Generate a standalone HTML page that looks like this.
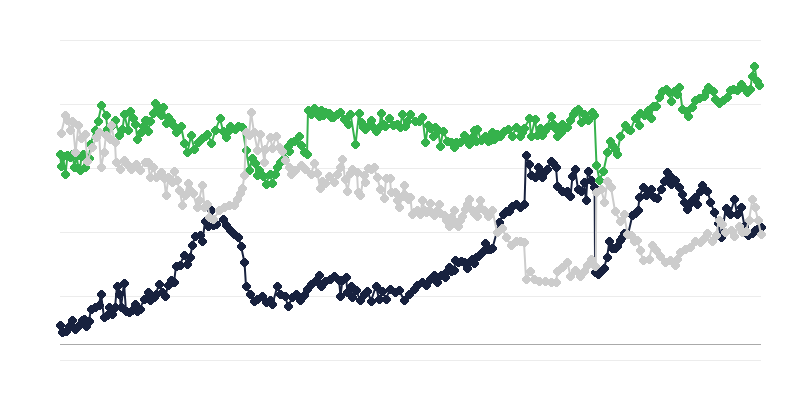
<!DOCTYPE html>
<html><head><meta charset="utf-8"><title>Chart</title>
<style>
html,body{margin:0;padding:0;background:#fff;font-family:"Liberation Sans",sans-serif;}
svg{display:block}
</style></head><body>
<svg width="800" height="400" viewBox="0 0 800 400">
<rect width="800" height="400" fill="#ffffff"/>
<rect x="60" y="40" width="701" height="1" fill="#ececec"/><rect x="60" y="104" width="701" height="1" fill="#ececec"/><rect x="60" y="168" width="701" height="1" fill="#ececec"/><rect x="60" y="232" width="701" height="1" fill="#ececec"/><rect x="60" y="296" width="701" height="1" fill="#ececec"/><rect x="60" y="360" width="701" height="1" fill="#ececec"/>
<rect x="60" y="344" width="701" height="1" fill="#aaaaaa"/>
<polyline fill="none" stroke="#18223f" stroke-width="2" stroke-linejoin="round" stroke-linecap="round" points="60,325 62.5,332.5 66,331 69,326 72.5,320 75.5,329 79,325 82.5,320 84,319 86,326 89,321 91,309 95,307.5 99,305 101,294 104,317.5 107.5,315 109.5,307.5 112.5,314 115,307.5 117,286 119.5,294 121,307.5 124,283 126,311 129,312.5 132.5,310 135.5,304 137.5,311 140,309 144,299 148,292.5 150,300 154,297.5 156,294 159,284 162.5,292.5 165.5,296 168,285 171,280 174,282.5 176,266 180,265 184,255 187.5,264 190,257.5 192.5,245 195,236 200,235 202.5,241 205,221.5 208.5,226 211,210 213,225.5 216,224 223,219 226,225 230,230 234,234 238.5,237.5 241,246 244.5,262.5 246,286 250,294 254,301 257.5,299 262.5,296 266,302.5 270,300 272.5,304 277.5,286 280,294 285,296 288,306 292.5,297.5 296,294 300,300 304,295 307.5,289 311,284 315,281 319.5,275 321,286 325,281 330,279 334.5,276 339,280 340.5,296 342.5,280 346,277.5 347.5,292.5 351,286 352.5,297.5 356,290 360,300 364,294 367.5,291 371,301 376,286 379,299 382.5,291 386,299 390,289 395,292.5 399,290 404,300 409,294 414,289 417.5,285 422.5,282.5 426,285 430,279 434,275 437.5,282.5 441,275 445,277 447,271 449,267.5 451.5,271 454,270 455.5,260.5 458,262 461,261 464,262 466,263 467.5,268.5 470,261 472.5,259 474,263.5 476,257.5 478,256 480,254 482,252 484,250 485.5,243 487.5,249 490,249.5 492.5,248 499.5,222 503,214 506,211.5 509,211 512.5,206 516,204 520,207.5 524.5,204 526,155 529,164 531,175 535,177 538,167.5 540.5,173 542.5,177 545,171 547.5,169 551,161 553,163 556,167.5 557.5,186 562,191 566,192 567.5,191 570.5,196.5 572.5,176 575,169 578,189 581,191 584,182.5 586,200 588,171 591,180 594.6,187.5 595.1,272.5 598.5,274 601,271 604,268 607,257.5 609.5,241 612.5,248 615,248 617.5,246 620.5,240.5 622.5,237.5 624.5,233 628,234.5 632.5,215 635.5,213 638,210.5 639.5,197.5 643,187 646,195 648.5,193 651,189 654,197 657,198 661,189 664.5,181 667,172 670,176 671.5,184 675,180.5 679,187.5 682.5,194 684.5,202 687.5,209 690,203.5 692,200 695,197.5 697.5,204 700,191 702.5,185 707.5,191 710.5,202 714.5,212.5 718,223 721,237 726,208 728,212 730,214 734.5,199.5 737,214 741,207.5 744.5,226 748,235 752,233 755,230 758,228.5 761.5,227"/>
<path fill="#18223f" d="M59 321h3v1h1v1h1v1h1v3h-1v1h-1v1h-1v1h-3v-1h-1v-1h-1v-1h-1v-3h1v-1h1v-1h1v-1zM61 328h3v1h1v1h1v1h1v3h-1v1h-1v1h-1v1h-3v-1h-1v-1h-1v-1h-1v-3h1v-1h1v-1h1v-1zM65 327h3v1h1v1h1v1h1v3h-1v1h-1v1h-1v1h-3v-1h-1v-1h-1v-1h-1v-3h1v-1h1v-1h1v-1zM68 322h3v1h1v1h1v1h1v3h-1v1h-1v1h-1v1h-3v-1h-1v-1h-1v-1h-1v-3h1v-1h1v-1h1v-1zM71 316h3v1h1v1h1v1h1v3h-1v1h-1v1h-1v1h-3v-1h-1v-1h-1v-1h-1v-3h1v-1h1v-1h1v-1zM74 325h3v1h1v1h1v1h1v3h-1v1h-1v1h-1v1h-3v-1h-1v-1h-1v-1h-1v-3h1v-1h1v-1h1v-1zM78 321h3v1h1v1h1v1h1v3h-1v1h-1v1h-1v1h-3v-1h-1v-1h-1v-1h-1v-3h1v-1h1v-1h1v-1zM81 316h3v1h1v1h1v1h1v3h-1v1h-1v1h-1v1h-3v-1h-1v-1h-1v-1h-1v-3h1v-1h1v-1h1v-1zM83 315h3v1h1v1h1v1h1v3h-1v1h-1v1h-1v1h-3v-1h-1v-1h-1v-1h-1v-3h1v-1h1v-1h1v-1zM85 322h3v1h1v1h1v1h1v3h-1v1h-1v1h-1v1h-3v-1h-1v-1h-1v-1h-1v-3h1v-1h1v-1h1v-1zM88 317h3v1h1v1h1v1h1v3h-1v1h-1v1h-1v1h-3v-1h-1v-1h-1v-1h-1v-3h1v-1h1v-1h1v-1zM90 305h3v1h1v1h1v1h1v3h-1v1h-1v1h-1v1h-3v-1h-1v-1h-1v-1h-1v-3h1v-1h1v-1h1v-1zM94 303h3v1h1v1h1v1h1v3h-1v1h-1v1h-1v1h-3v-1h-1v-1h-1v-1h-1v-3h1v-1h1v-1h1v-1zM98 301h3v1h1v1h1v1h1v3h-1v1h-1v1h-1v1h-3v-1h-1v-1h-1v-1h-1v-3h1v-1h1v-1h1v-1zM100 290h3v1h1v1h1v1h1v3h-1v1h-1v1h-1v1h-3v-1h-1v-1h-1v-1h-1v-3h1v-1h1v-1h1v-1zM103 313h3v1h1v1h1v1h1v3h-1v1h-1v1h-1v1h-3v-1h-1v-1h-1v-1h-1v-3h1v-1h1v-1h1v-1zM106 311h3v1h1v1h1v1h1v3h-1v1h-1v1h-1v1h-3v-1h-1v-1h-1v-1h-1v-3h1v-1h1v-1h1v-1zM108 303h3v1h1v1h1v1h1v3h-1v1h-1v1h-1v1h-3v-1h-1v-1h-1v-1h-1v-3h1v-1h1v-1h1v-1zM111 310h3v1h1v1h1v1h1v3h-1v1h-1v1h-1v1h-3v-1h-1v-1h-1v-1h-1v-3h1v-1h1v-1h1v-1zM114 303h3v1h1v1h1v1h1v3h-1v1h-1v1h-1v1h-3v-1h-1v-1h-1v-1h-1v-3h1v-1h1v-1h1v-1zM116 282h3v1h1v1h1v1h1v3h-1v1h-1v1h-1v1h-3v-1h-1v-1h-1v-1h-1v-3h1v-1h1v-1h1v-1zM118 290h3v1h1v1h1v1h1v3h-1v1h-1v1h-1v1h-3v-1h-1v-1h-1v-1h-1v-3h1v-1h1v-1h1v-1zM120 303h3v1h1v1h1v1h1v3h-1v1h-1v1h-1v1h-3v-1h-1v-1h-1v-1h-1v-3h1v-1h1v-1h1v-1zM123 279h3v1h1v1h1v1h1v3h-1v1h-1v1h-1v1h-3v-1h-1v-1h-1v-1h-1v-3h1v-1h1v-1h1v-1zM125 307h3v1h1v1h1v1h1v3h-1v1h-1v1h-1v1h-3v-1h-1v-1h-1v-1h-1v-3h1v-1h1v-1h1v-1zM128 308h3v1h1v1h1v1h1v3h-1v1h-1v1h-1v1h-3v-1h-1v-1h-1v-1h-1v-3h1v-1h1v-1h1v-1zM131 306h3v1h1v1h1v1h1v3h-1v1h-1v1h-1v1h-3v-1h-1v-1h-1v-1h-1v-3h1v-1h1v-1h1v-1zM134 300h3v1h1v1h1v1h1v3h-1v1h-1v1h-1v1h-3v-1h-1v-1h-1v-1h-1v-3h1v-1h1v-1h1v-1zM136 307h3v1h1v1h1v1h1v3h-1v1h-1v1h-1v1h-3v-1h-1v-1h-1v-1h-1v-3h1v-1h1v-1h1v-1zM139 305h3v1h1v1h1v1h1v3h-1v1h-1v1h-1v1h-3v-1h-1v-1h-1v-1h-1v-3h1v-1h1v-1h1v-1zM143 295h3v1h1v1h1v1h1v3h-1v1h-1v1h-1v1h-3v-1h-1v-1h-1v-1h-1v-3h1v-1h1v-1h1v-1zM147 288h3v1h1v1h1v1h1v3h-1v1h-1v1h-1v1h-3v-1h-1v-1h-1v-1h-1v-3h1v-1h1v-1h1v-1zM149 296h3v1h1v1h1v1h1v3h-1v1h-1v1h-1v1h-3v-1h-1v-1h-1v-1h-1v-3h1v-1h1v-1h1v-1zM153 293h3v1h1v1h1v1h1v3h-1v1h-1v1h-1v1h-3v-1h-1v-1h-1v-1h-1v-3h1v-1h1v-1h1v-1zM155 290h3v1h1v1h1v1h1v3h-1v1h-1v1h-1v1h-3v-1h-1v-1h-1v-1h-1v-3h1v-1h1v-1h1v-1zM158 280h3v1h1v1h1v1h1v3h-1v1h-1v1h-1v1h-3v-1h-1v-1h-1v-1h-1v-3h1v-1h1v-1h1v-1zM161 288h3v1h1v1h1v1h1v3h-1v1h-1v1h-1v1h-3v-1h-1v-1h-1v-1h-1v-3h1v-1h1v-1h1v-1zM164 292h3v1h1v1h1v1h1v3h-1v1h-1v1h-1v1h-3v-1h-1v-1h-1v-1h-1v-3h1v-1h1v-1h1v-1zM167 281h3v1h1v1h1v1h1v3h-1v1h-1v1h-1v1h-3v-1h-1v-1h-1v-1h-1v-3h1v-1h1v-1h1v-1zM170 276h3v1h1v1h1v1h1v3h-1v1h-1v1h-1v1h-3v-1h-1v-1h-1v-1h-1v-3h1v-1h1v-1h1v-1zM173 278h3v1h1v1h1v1h1v3h-1v1h-1v1h-1v1h-3v-1h-1v-1h-1v-1h-1v-3h1v-1h1v-1h1v-1zM175 262h3v1h1v1h1v1h1v3h-1v1h-1v1h-1v1h-3v-1h-1v-1h-1v-1h-1v-3h1v-1h1v-1h1v-1zM179 261h3v1h1v1h1v1h1v3h-1v1h-1v1h-1v1h-3v-1h-1v-1h-1v-1h-1v-3h1v-1h1v-1h1v-1zM183 251h3v1h1v1h1v1h1v3h-1v1h-1v1h-1v1h-3v-1h-1v-1h-1v-1h-1v-3h1v-1h1v-1h1v-1zM186 260h3v1h1v1h1v1h1v3h-1v1h-1v1h-1v1h-3v-1h-1v-1h-1v-1h-1v-3h1v-1h1v-1h1v-1zM189 253h3v1h1v1h1v1h1v3h-1v1h-1v1h-1v1h-3v-1h-1v-1h-1v-1h-1v-3h1v-1h1v-1h1v-1zM191 241h3v1h1v1h1v1h1v3h-1v1h-1v1h-1v1h-3v-1h-1v-1h-1v-1h-1v-3h1v-1h1v-1h1v-1zM194 232h3v1h1v1h1v1h1v3h-1v1h-1v1h-1v1h-3v-1h-1v-1h-1v-1h-1v-3h1v-1h1v-1h1v-1zM199 231h3v1h1v1h1v1h1v3h-1v1h-1v1h-1v1h-3v-1h-1v-1h-1v-1h-1v-3h1v-1h1v-1h1v-1zM201 237h3v1h1v1h1v1h1v3h-1v1h-1v1h-1v1h-3v-1h-1v-1h-1v-1h-1v-3h1v-1h1v-1h1v-1zM204 217h3v1h1v1h1v1h1v3h-1v1h-1v1h-1v1h-3v-1h-1v-1h-1v-1h-1v-3h1v-1h1v-1h1v-1zM207 222h3v1h1v1h1v1h1v3h-1v1h-1v1h-1v1h-3v-1h-1v-1h-1v-1h-1v-3h1v-1h1v-1h1v-1zM210 206h3v1h1v1h1v1h1v3h-1v1h-1v1h-1v1h-3v-1h-1v-1h-1v-1h-1v-3h1v-1h1v-1h1v-1zM212 221h3v1h1v1h1v1h1v3h-1v1h-1v1h-1v1h-3v-1h-1v-1h-1v-1h-1v-3h1v-1h1v-1h1v-1zM215 220h3v1h1v1h1v1h1v3h-1v1h-1v1h-1v1h-3v-1h-1v-1h-1v-1h-1v-3h1v-1h1v-1h1v-1zM222 215h3v1h1v1h1v1h1v3h-1v1h-1v1h-1v1h-3v-1h-1v-1h-1v-1h-1v-3h1v-1h1v-1h1v-1zM225 221h3v1h1v1h1v1h1v3h-1v1h-1v1h-1v1h-3v-1h-1v-1h-1v-1h-1v-3h1v-1h1v-1h1v-1zM229 226h3v1h1v1h1v1h1v3h-1v1h-1v1h-1v1h-3v-1h-1v-1h-1v-1h-1v-3h1v-1h1v-1h1v-1zM233 230h3v1h1v1h1v1h1v3h-1v1h-1v1h-1v1h-3v-1h-1v-1h-1v-1h-1v-3h1v-1h1v-1h1v-1zM237 233h3v1h1v1h1v1h1v3h-1v1h-1v1h-1v1h-3v-1h-1v-1h-1v-1h-1v-3h1v-1h1v-1h1v-1zM240 242h3v1h1v1h1v1h1v3h-1v1h-1v1h-1v1h-3v-1h-1v-1h-1v-1h-1v-3h1v-1h1v-1h1v-1zM243 258h3v1h1v1h1v1h1v3h-1v1h-1v1h-1v1h-3v-1h-1v-1h-1v-1h-1v-3h1v-1h1v-1h1v-1zM245 282h3v1h1v1h1v1h1v3h-1v1h-1v1h-1v1h-3v-1h-1v-1h-1v-1h-1v-3h1v-1h1v-1h1v-1zM249 290h3v1h1v1h1v1h1v3h-1v1h-1v1h-1v1h-3v-1h-1v-1h-1v-1h-1v-3h1v-1h1v-1h1v-1zM253 297h3v1h1v1h1v1h1v3h-1v1h-1v1h-1v1h-3v-1h-1v-1h-1v-1h-1v-3h1v-1h1v-1h1v-1zM256 295h3v1h1v1h1v1h1v3h-1v1h-1v1h-1v1h-3v-1h-1v-1h-1v-1h-1v-3h1v-1h1v-1h1v-1zM261 292h3v1h1v1h1v1h1v3h-1v1h-1v1h-1v1h-3v-1h-1v-1h-1v-1h-1v-3h1v-1h1v-1h1v-1zM265 298h3v1h1v1h1v1h1v3h-1v1h-1v1h-1v1h-3v-1h-1v-1h-1v-1h-1v-3h1v-1h1v-1h1v-1zM269 296h3v1h1v1h1v1h1v3h-1v1h-1v1h-1v1h-3v-1h-1v-1h-1v-1h-1v-3h1v-1h1v-1h1v-1zM271 300h3v1h1v1h1v1h1v3h-1v1h-1v1h-1v1h-3v-1h-1v-1h-1v-1h-1v-3h1v-1h1v-1h1v-1zM276 282h3v1h1v1h1v1h1v3h-1v1h-1v1h-1v1h-3v-1h-1v-1h-1v-1h-1v-3h1v-1h1v-1h1v-1zM279 290h3v1h1v1h1v1h1v3h-1v1h-1v1h-1v1h-3v-1h-1v-1h-1v-1h-1v-3h1v-1h1v-1h1v-1zM284 292h3v1h1v1h1v1h1v3h-1v1h-1v1h-1v1h-3v-1h-1v-1h-1v-1h-1v-3h1v-1h1v-1h1v-1zM287 302h3v1h1v1h1v1h1v3h-1v1h-1v1h-1v1h-3v-1h-1v-1h-1v-1h-1v-3h1v-1h1v-1h1v-1zM291 293h3v1h1v1h1v1h1v3h-1v1h-1v1h-1v1h-3v-1h-1v-1h-1v-1h-1v-3h1v-1h1v-1h1v-1zM295 290h3v1h1v1h1v1h1v3h-1v1h-1v1h-1v1h-3v-1h-1v-1h-1v-1h-1v-3h1v-1h1v-1h1v-1zM299 296h3v1h1v1h1v1h1v3h-1v1h-1v1h-1v1h-3v-1h-1v-1h-1v-1h-1v-3h1v-1h1v-1h1v-1zM303 291h3v1h1v1h1v1h1v3h-1v1h-1v1h-1v1h-3v-1h-1v-1h-1v-1h-1v-3h1v-1h1v-1h1v-1zM306 285h3v1h1v1h1v1h1v3h-1v1h-1v1h-1v1h-3v-1h-1v-1h-1v-1h-1v-3h1v-1h1v-1h1v-1zM310 280h3v1h1v1h1v1h1v3h-1v1h-1v1h-1v1h-3v-1h-1v-1h-1v-1h-1v-3h1v-1h1v-1h1v-1zM314 277h3v1h1v1h1v1h1v3h-1v1h-1v1h-1v1h-3v-1h-1v-1h-1v-1h-1v-3h1v-1h1v-1h1v-1zM318 271h3v1h1v1h1v1h1v3h-1v1h-1v1h-1v1h-3v-1h-1v-1h-1v-1h-1v-3h1v-1h1v-1h1v-1zM320 282h3v1h1v1h1v1h1v3h-1v1h-1v1h-1v1h-3v-1h-1v-1h-1v-1h-1v-3h1v-1h1v-1h1v-1zM324 277h3v1h1v1h1v1h1v3h-1v1h-1v1h-1v1h-3v-1h-1v-1h-1v-1h-1v-3h1v-1h1v-1h1v-1zM329 275h3v1h1v1h1v1h1v3h-1v1h-1v1h-1v1h-3v-1h-1v-1h-1v-1h-1v-3h1v-1h1v-1h1v-1zM333 272h3v1h1v1h1v1h1v3h-1v1h-1v1h-1v1h-3v-1h-1v-1h-1v-1h-1v-3h1v-1h1v-1h1v-1zM338 276h3v1h1v1h1v1h1v3h-1v1h-1v1h-1v1h-3v-1h-1v-1h-1v-1h-1v-3h1v-1h1v-1h1v-1zM339 292h3v1h1v1h1v1h1v3h-1v1h-1v1h-1v1h-3v-1h-1v-1h-1v-1h-1v-3h1v-1h1v-1h1v-1zM341 276h3v1h1v1h1v1h1v3h-1v1h-1v1h-1v1h-3v-1h-1v-1h-1v-1h-1v-3h1v-1h1v-1h1v-1zM345 273h3v1h1v1h1v1h1v3h-1v1h-1v1h-1v1h-3v-1h-1v-1h-1v-1h-1v-3h1v-1h1v-1h1v-1zM346 288h3v1h1v1h1v1h1v3h-1v1h-1v1h-1v1h-3v-1h-1v-1h-1v-1h-1v-3h1v-1h1v-1h1v-1zM350 282h3v1h1v1h1v1h1v3h-1v1h-1v1h-1v1h-3v-1h-1v-1h-1v-1h-1v-3h1v-1h1v-1h1v-1zM351 293h3v1h1v1h1v1h1v3h-1v1h-1v1h-1v1h-3v-1h-1v-1h-1v-1h-1v-3h1v-1h1v-1h1v-1zM355 286h3v1h1v1h1v1h1v3h-1v1h-1v1h-1v1h-3v-1h-1v-1h-1v-1h-1v-3h1v-1h1v-1h1v-1zM359 296h3v1h1v1h1v1h1v3h-1v1h-1v1h-1v1h-3v-1h-1v-1h-1v-1h-1v-3h1v-1h1v-1h1v-1zM363 290h3v1h1v1h1v1h1v3h-1v1h-1v1h-1v1h-3v-1h-1v-1h-1v-1h-1v-3h1v-1h1v-1h1v-1zM366 287h3v1h1v1h1v1h1v3h-1v1h-1v1h-1v1h-3v-1h-1v-1h-1v-1h-1v-3h1v-1h1v-1h1v-1zM370 297h3v1h1v1h1v1h1v3h-1v1h-1v1h-1v1h-3v-1h-1v-1h-1v-1h-1v-3h1v-1h1v-1h1v-1zM375 282h3v1h1v1h1v1h1v3h-1v1h-1v1h-1v1h-3v-1h-1v-1h-1v-1h-1v-3h1v-1h1v-1h1v-1zM378 295h3v1h1v1h1v1h1v3h-1v1h-1v1h-1v1h-3v-1h-1v-1h-1v-1h-1v-3h1v-1h1v-1h1v-1zM381 287h3v1h1v1h1v1h1v3h-1v1h-1v1h-1v1h-3v-1h-1v-1h-1v-1h-1v-3h1v-1h1v-1h1v-1zM385 295h3v1h1v1h1v1h1v3h-1v1h-1v1h-1v1h-3v-1h-1v-1h-1v-1h-1v-3h1v-1h1v-1h1v-1zM389 285h3v1h1v1h1v1h1v3h-1v1h-1v1h-1v1h-3v-1h-1v-1h-1v-1h-1v-3h1v-1h1v-1h1v-1zM394 288h3v1h1v1h1v1h1v3h-1v1h-1v1h-1v1h-3v-1h-1v-1h-1v-1h-1v-3h1v-1h1v-1h1v-1zM398 286h3v1h1v1h1v1h1v3h-1v1h-1v1h-1v1h-3v-1h-1v-1h-1v-1h-1v-3h1v-1h1v-1h1v-1zM403 296h3v1h1v1h1v1h1v3h-1v1h-1v1h-1v1h-3v-1h-1v-1h-1v-1h-1v-3h1v-1h1v-1h1v-1zM408 290h3v1h1v1h1v1h1v3h-1v1h-1v1h-1v1h-3v-1h-1v-1h-1v-1h-1v-3h1v-1h1v-1h1v-1zM413 285h3v1h1v1h1v1h1v3h-1v1h-1v1h-1v1h-3v-1h-1v-1h-1v-1h-1v-3h1v-1h1v-1h1v-1zM416 281h3v1h1v1h1v1h1v3h-1v1h-1v1h-1v1h-3v-1h-1v-1h-1v-1h-1v-3h1v-1h1v-1h1v-1zM421 278h3v1h1v1h1v1h1v3h-1v1h-1v1h-1v1h-3v-1h-1v-1h-1v-1h-1v-3h1v-1h1v-1h1v-1zM425 281h3v1h1v1h1v1h1v3h-1v1h-1v1h-1v1h-3v-1h-1v-1h-1v-1h-1v-3h1v-1h1v-1h1v-1zM429 275h3v1h1v1h1v1h1v3h-1v1h-1v1h-1v1h-3v-1h-1v-1h-1v-1h-1v-3h1v-1h1v-1h1v-1zM433 271h3v1h1v1h1v1h1v3h-1v1h-1v1h-1v1h-3v-1h-1v-1h-1v-1h-1v-3h1v-1h1v-1h1v-1zM436 278h3v1h1v1h1v1h1v3h-1v1h-1v1h-1v1h-3v-1h-1v-1h-1v-1h-1v-3h1v-1h1v-1h1v-1zM440 271h3v1h1v1h1v1h1v3h-1v1h-1v1h-1v1h-3v-1h-1v-1h-1v-1h-1v-3h1v-1h1v-1h1v-1zM444 273h3v1h1v1h1v1h1v3h-1v1h-1v1h-1v1h-3v-1h-1v-1h-1v-1h-1v-3h1v-1h1v-1h1v-1zM446 267h3v1h1v1h1v1h1v3h-1v1h-1v1h-1v1h-3v-1h-1v-1h-1v-1h-1v-3h1v-1h1v-1h1v-1zM448 263h3v1h1v1h1v1h1v3h-1v1h-1v1h-1v1h-3v-1h-1v-1h-1v-1h-1v-3h1v-1h1v-1h1v-1zM450 267h3v1h1v1h1v1h1v3h-1v1h-1v1h-1v1h-3v-1h-1v-1h-1v-1h-1v-3h1v-1h1v-1h1v-1zM453 266h3v1h1v1h1v1h1v3h-1v1h-1v1h-1v1h-3v-1h-1v-1h-1v-1h-1v-3h1v-1h1v-1h1v-1zM454 256h3v1h1v1h1v1h1v3h-1v1h-1v1h-1v1h-3v-1h-1v-1h-1v-1h-1v-3h1v-1h1v-1h1v-1zM457 258h3v1h1v1h1v1h1v3h-1v1h-1v1h-1v1h-3v-1h-1v-1h-1v-1h-1v-3h1v-1h1v-1h1v-1zM460 257h3v1h1v1h1v1h1v3h-1v1h-1v1h-1v1h-3v-1h-1v-1h-1v-1h-1v-3h1v-1h1v-1h1v-1zM463 258h3v1h1v1h1v1h1v3h-1v1h-1v1h-1v1h-3v-1h-1v-1h-1v-1h-1v-3h1v-1h1v-1h1v-1zM465 259h3v1h1v1h1v1h1v3h-1v1h-1v1h-1v1h-3v-1h-1v-1h-1v-1h-1v-3h1v-1h1v-1h1v-1zM466 264h3v1h1v1h1v1h1v3h-1v1h-1v1h-1v1h-3v-1h-1v-1h-1v-1h-1v-3h1v-1h1v-1h1v-1zM469 257h3v1h1v1h1v1h1v3h-1v1h-1v1h-1v1h-3v-1h-1v-1h-1v-1h-1v-3h1v-1h1v-1h1v-1zM471 255h3v1h1v1h1v1h1v3h-1v1h-1v1h-1v1h-3v-1h-1v-1h-1v-1h-1v-3h1v-1h1v-1h1v-1zM473 259h3v1h1v1h1v1h1v3h-1v1h-1v1h-1v1h-3v-1h-1v-1h-1v-1h-1v-3h1v-1h1v-1h1v-1zM475 253h3v1h1v1h1v1h1v3h-1v1h-1v1h-1v1h-3v-1h-1v-1h-1v-1h-1v-3h1v-1h1v-1h1v-1zM477 252h3v1h1v1h1v1h1v3h-1v1h-1v1h-1v1h-3v-1h-1v-1h-1v-1h-1v-3h1v-1h1v-1h1v-1zM479 250h3v1h1v1h1v1h1v3h-1v1h-1v1h-1v1h-3v-1h-1v-1h-1v-1h-1v-3h1v-1h1v-1h1v-1zM481 248h3v1h1v1h1v1h1v3h-1v1h-1v1h-1v1h-3v-1h-1v-1h-1v-1h-1v-3h1v-1h1v-1h1v-1zM483 246h3v1h1v1h1v1h1v3h-1v1h-1v1h-1v1h-3v-1h-1v-1h-1v-1h-1v-3h1v-1h1v-1h1v-1zM484 239h3v1h1v1h1v1h1v3h-1v1h-1v1h-1v1h-3v-1h-1v-1h-1v-1h-1v-3h1v-1h1v-1h1v-1zM486 245h3v1h1v1h1v1h1v3h-1v1h-1v1h-1v1h-3v-1h-1v-1h-1v-1h-1v-3h1v-1h1v-1h1v-1zM489 245h3v1h1v1h1v1h1v3h-1v1h-1v1h-1v1h-3v-1h-1v-1h-1v-1h-1v-3h1v-1h1v-1h1v-1zM491 244h3v1h1v1h1v1h1v3h-1v1h-1v1h-1v1h-3v-1h-1v-1h-1v-1h-1v-3h1v-1h1v-1h1v-1zM498 218h3v1h1v1h1v1h1v3h-1v1h-1v1h-1v1h-3v-1h-1v-1h-1v-1h-1v-3h1v-1h1v-1h1v-1zM502 210h3v1h1v1h1v1h1v3h-1v1h-1v1h-1v1h-3v-1h-1v-1h-1v-1h-1v-3h1v-1h1v-1h1v-1zM505 207h3v1h1v1h1v1h1v3h-1v1h-1v1h-1v1h-3v-1h-1v-1h-1v-1h-1v-3h1v-1h1v-1h1v-1zM508 207h3v1h1v1h1v1h1v3h-1v1h-1v1h-1v1h-3v-1h-1v-1h-1v-1h-1v-3h1v-1h1v-1h1v-1zM511 202h3v1h1v1h1v1h1v3h-1v1h-1v1h-1v1h-3v-1h-1v-1h-1v-1h-1v-3h1v-1h1v-1h1v-1zM515 200h3v1h1v1h1v1h1v3h-1v1h-1v1h-1v1h-3v-1h-1v-1h-1v-1h-1v-3h1v-1h1v-1h1v-1zM519 203h3v1h1v1h1v1h1v3h-1v1h-1v1h-1v1h-3v-1h-1v-1h-1v-1h-1v-3h1v-1h1v-1h1v-1zM523 200h3v1h1v1h1v1h1v3h-1v1h-1v1h-1v1h-3v-1h-1v-1h-1v-1h-1v-3h1v-1h1v-1h1v-1zM525 151h3v1h1v1h1v1h1v3h-1v1h-1v1h-1v1h-3v-1h-1v-1h-1v-1h-1v-3h1v-1h1v-1h1v-1zM528 160h3v1h1v1h1v1h1v3h-1v1h-1v1h-1v1h-3v-1h-1v-1h-1v-1h-1v-3h1v-1h1v-1h1v-1zM530 171h3v1h1v1h1v1h1v3h-1v1h-1v1h-1v1h-3v-1h-1v-1h-1v-1h-1v-3h1v-1h1v-1h1v-1zM534 173h3v1h1v1h1v1h1v3h-1v1h-1v1h-1v1h-3v-1h-1v-1h-1v-1h-1v-3h1v-1h1v-1h1v-1zM537 163h3v1h1v1h1v1h1v3h-1v1h-1v1h-1v1h-3v-1h-1v-1h-1v-1h-1v-3h1v-1h1v-1h1v-1zM539 169h3v1h1v1h1v1h1v3h-1v1h-1v1h-1v1h-3v-1h-1v-1h-1v-1h-1v-3h1v-1h1v-1h1v-1zM541 173h3v1h1v1h1v1h1v3h-1v1h-1v1h-1v1h-3v-1h-1v-1h-1v-1h-1v-3h1v-1h1v-1h1v-1zM544 167h3v1h1v1h1v1h1v3h-1v1h-1v1h-1v1h-3v-1h-1v-1h-1v-1h-1v-3h1v-1h1v-1h1v-1zM546 165h3v1h1v1h1v1h1v3h-1v1h-1v1h-1v1h-3v-1h-1v-1h-1v-1h-1v-3h1v-1h1v-1h1v-1zM550 157h3v1h1v1h1v1h1v3h-1v1h-1v1h-1v1h-3v-1h-1v-1h-1v-1h-1v-3h1v-1h1v-1h1v-1zM552 159h3v1h1v1h1v1h1v3h-1v1h-1v1h-1v1h-3v-1h-1v-1h-1v-1h-1v-3h1v-1h1v-1h1v-1zM555 163h3v1h1v1h1v1h1v3h-1v1h-1v1h-1v1h-3v-1h-1v-1h-1v-1h-1v-3h1v-1h1v-1h1v-1zM556 182h3v1h1v1h1v1h1v3h-1v1h-1v1h-1v1h-3v-1h-1v-1h-1v-1h-1v-3h1v-1h1v-1h1v-1zM561 187h3v1h1v1h1v1h1v3h-1v1h-1v1h-1v1h-3v-1h-1v-1h-1v-1h-1v-3h1v-1h1v-1h1v-1zM565 188h3v1h1v1h1v1h1v3h-1v1h-1v1h-1v1h-3v-1h-1v-1h-1v-1h-1v-3h1v-1h1v-1h1v-1zM566 187h3v1h1v1h1v1h1v3h-1v1h-1v1h-1v1h-3v-1h-1v-1h-1v-1h-1v-3h1v-1h1v-1h1v-1zM569 192h3v1h1v1h1v1h1v3h-1v1h-1v1h-1v1h-3v-1h-1v-1h-1v-1h-1v-3h1v-1h1v-1h1v-1zM571 172h3v1h1v1h1v1h1v3h-1v1h-1v1h-1v1h-3v-1h-1v-1h-1v-1h-1v-3h1v-1h1v-1h1v-1zM574 165h3v1h1v1h1v1h1v3h-1v1h-1v1h-1v1h-3v-1h-1v-1h-1v-1h-1v-3h1v-1h1v-1h1v-1zM577 185h3v1h1v1h1v1h1v3h-1v1h-1v1h-1v1h-3v-1h-1v-1h-1v-1h-1v-3h1v-1h1v-1h1v-1zM580 187h3v1h1v1h1v1h1v3h-1v1h-1v1h-1v1h-3v-1h-1v-1h-1v-1h-1v-3h1v-1h1v-1h1v-1zM583 178h3v1h1v1h1v1h1v3h-1v1h-1v1h-1v1h-3v-1h-1v-1h-1v-1h-1v-3h1v-1h1v-1h1v-1zM585 196h3v1h1v1h1v1h1v3h-1v1h-1v1h-1v1h-3v-1h-1v-1h-1v-1h-1v-3h1v-1h1v-1h1v-1zM587 167h3v1h1v1h1v1h1v3h-1v1h-1v1h-1v1h-3v-1h-1v-1h-1v-1h-1v-3h1v-1h1v-1h1v-1zM590 176h3v1h1v1h1v1h1v3h-1v1h-1v1h-1v1h-3v-1h-1v-1h-1v-1h-1v-3h1v-1h1v-1h1v-1zM593 183h3v1h1v1h1v1h1v3h-1v1h-1v1h-1v1h-3v-1h-1v-1h-1v-1h-1v-3h1v-1h1v-1h1v-1zM594 268h3v1h1v1h1v1h1v3h-1v1h-1v1h-1v1h-3v-1h-1v-1h-1v-1h-1v-3h1v-1h1v-1h1v-1zM597 270h3v1h1v1h1v1h1v3h-1v1h-1v1h-1v1h-3v-1h-1v-1h-1v-1h-1v-3h1v-1h1v-1h1v-1zM600 267h3v1h1v1h1v1h1v3h-1v1h-1v1h-1v1h-3v-1h-1v-1h-1v-1h-1v-3h1v-1h1v-1h1v-1zM603 264h3v1h1v1h1v1h1v3h-1v1h-1v1h-1v1h-3v-1h-1v-1h-1v-1h-1v-3h1v-1h1v-1h1v-1zM606 253h3v1h1v1h1v1h1v3h-1v1h-1v1h-1v1h-3v-1h-1v-1h-1v-1h-1v-3h1v-1h1v-1h1v-1zM608 237h3v1h1v1h1v1h1v3h-1v1h-1v1h-1v1h-3v-1h-1v-1h-1v-1h-1v-3h1v-1h1v-1h1v-1zM611 244h3v1h1v1h1v1h1v3h-1v1h-1v1h-1v1h-3v-1h-1v-1h-1v-1h-1v-3h1v-1h1v-1h1v-1zM614 244h3v1h1v1h1v1h1v3h-1v1h-1v1h-1v1h-3v-1h-1v-1h-1v-1h-1v-3h1v-1h1v-1h1v-1zM616 242h3v1h1v1h1v1h1v3h-1v1h-1v1h-1v1h-3v-1h-1v-1h-1v-1h-1v-3h1v-1h1v-1h1v-1zM619 236h3v1h1v1h1v1h1v3h-1v1h-1v1h-1v1h-3v-1h-1v-1h-1v-1h-1v-3h1v-1h1v-1h1v-1zM621 233h3v1h1v1h1v1h1v3h-1v1h-1v1h-1v1h-3v-1h-1v-1h-1v-1h-1v-3h1v-1h1v-1h1v-1zM623 229h3v1h1v1h1v1h1v3h-1v1h-1v1h-1v1h-3v-1h-1v-1h-1v-1h-1v-3h1v-1h1v-1h1v-1zM627 230h3v1h1v1h1v1h1v3h-1v1h-1v1h-1v1h-3v-1h-1v-1h-1v-1h-1v-3h1v-1h1v-1h1v-1zM631 211h3v1h1v1h1v1h1v3h-1v1h-1v1h-1v1h-3v-1h-1v-1h-1v-1h-1v-3h1v-1h1v-1h1v-1zM634 209h3v1h1v1h1v1h1v3h-1v1h-1v1h-1v1h-3v-1h-1v-1h-1v-1h-1v-3h1v-1h1v-1h1v-1zM637 206h3v1h1v1h1v1h1v3h-1v1h-1v1h-1v1h-3v-1h-1v-1h-1v-1h-1v-3h1v-1h1v-1h1v-1zM638 193h3v1h1v1h1v1h1v3h-1v1h-1v1h-1v1h-3v-1h-1v-1h-1v-1h-1v-3h1v-1h1v-1h1v-1zM642 183h3v1h1v1h1v1h1v3h-1v1h-1v1h-1v1h-3v-1h-1v-1h-1v-1h-1v-3h1v-1h1v-1h1v-1zM645 191h3v1h1v1h1v1h1v3h-1v1h-1v1h-1v1h-3v-1h-1v-1h-1v-1h-1v-3h1v-1h1v-1h1v-1zM647 189h3v1h1v1h1v1h1v3h-1v1h-1v1h-1v1h-3v-1h-1v-1h-1v-1h-1v-3h1v-1h1v-1h1v-1zM650 185h3v1h1v1h1v1h1v3h-1v1h-1v1h-1v1h-3v-1h-1v-1h-1v-1h-1v-3h1v-1h1v-1h1v-1zM653 193h3v1h1v1h1v1h1v3h-1v1h-1v1h-1v1h-3v-1h-1v-1h-1v-1h-1v-3h1v-1h1v-1h1v-1zM656 194h3v1h1v1h1v1h1v3h-1v1h-1v1h-1v1h-3v-1h-1v-1h-1v-1h-1v-3h1v-1h1v-1h1v-1zM660 185h3v1h1v1h1v1h1v3h-1v1h-1v1h-1v1h-3v-1h-1v-1h-1v-1h-1v-3h1v-1h1v-1h1v-1zM663 177h3v1h1v1h1v1h1v3h-1v1h-1v1h-1v1h-3v-1h-1v-1h-1v-1h-1v-3h1v-1h1v-1h1v-1zM666 168h3v1h1v1h1v1h1v3h-1v1h-1v1h-1v1h-3v-1h-1v-1h-1v-1h-1v-3h1v-1h1v-1h1v-1zM669 172h3v1h1v1h1v1h1v3h-1v1h-1v1h-1v1h-3v-1h-1v-1h-1v-1h-1v-3h1v-1h1v-1h1v-1zM670 180h3v1h1v1h1v1h1v3h-1v1h-1v1h-1v1h-3v-1h-1v-1h-1v-1h-1v-3h1v-1h1v-1h1v-1zM674 176h3v1h1v1h1v1h1v3h-1v1h-1v1h-1v1h-3v-1h-1v-1h-1v-1h-1v-3h1v-1h1v-1h1v-1zM678 183h3v1h1v1h1v1h1v3h-1v1h-1v1h-1v1h-3v-1h-1v-1h-1v-1h-1v-3h1v-1h1v-1h1v-1zM681 190h3v1h1v1h1v1h1v3h-1v1h-1v1h-1v1h-3v-1h-1v-1h-1v-1h-1v-3h1v-1h1v-1h1v-1zM683 198h3v1h1v1h1v1h1v3h-1v1h-1v1h-1v1h-3v-1h-1v-1h-1v-1h-1v-3h1v-1h1v-1h1v-1zM686 205h3v1h1v1h1v1h1v3h-1v1h-1v1h-1v1h-3v-1h-1v-1h-1v-1h-1v-3h1v-1h1v-1h1v-1zM689 199h3v1h1v1h1v1h1v3h-1v1h-1v1h-1v1h-3v-1h-1v-1h-1v-1h-1v-3h1v-1h1v-1h1v-1zM691 196h3v1h1v1h1v1h1v3h-1v1h-1v1h-1v1h-3v-1h-1v-1h-1v-1h-1v-3h1v-1h1v-1h1v-1zM694 193h3v1h1v1h1v1h1v3h-1v1h-1v1h-1v1h-3v-1h-1v-1h-1v-1h-1v-3h1v-1h1v-1h1v-1zM696 200h3v1h1v1h1v1h1v3h-1v1h-1v1h-1v1h-3v-1h-1v-1h-1v-1h-1v-3h1v-1h1v-1h1v-1zM699 187h3v1h1v1h1v1h1v3h-1v1h-1v1h-1v1h-3v-1h-1v-1h-1v-1h-1v-3h1v-1h1v-1h1v-1zM701 181h3v1h1v1h1v1h1v3h-1v1h-1v1h-1v1h-3v-1h-1v-1h-1v-1h-1v-3h1v-1h1v-1h1v-1zM706 187h3v1h1v1h1v1h1v3h-1v1h-1v1h-1v1h-3v-1h-1v-1h-1v-1h-1v-3h1v-1h1v-1h1v-1zM709 198h3v1h1v1h1v1h1v3h-1v1h-1v1h-1v1h-3v-1h-1v-1h-1v-1h-1v-3h1v-1h1v-1h1v-1zM713 208h3v1h1v1h1v1h1v3h-1v1h-1v1h-1v1h-3v-1h-1v-1h-1v-1h-1v-3h1v-1h1v-1h1v-1zM717 219h3v1h1v1h1v1h1v3h-1v1h-1v1h-1v1h-3v-1h-1v-1h-1v-1h-1v-3h1v-1h1v-1h1v-1zM720 233h3v1h1v1h1v1h1v3h-1v1h-1v1h-1v1h-3v-1h-1v-1h-1v-1h-1v-3h1v-1h1v-1h1v-1zM725 204h3v1h1v1h1v1h1v3h-1v1h-1v1h-1v1h-3v-1h-1v-1h-1v-1h-1v-3h1v-1h1v-1h1v-1zM727 208h3v1h1v1h1v1h1v3h-1v1h-1v1h-1v1h-3v-1h-1v-1h-1v-1h-1v-3h1v-1h1v-1h1v-1zM729 210h3v1h1v1h1v1h1v3h-1v1h-1v1h-1v1h-3v-1h-1v-1h-1v-1h-1v-3h1v-1h1v-1h1v-1zM733 195h3v1h1v1h1v1h1v3h-1v1h-1v1h-1v1h-3v-1h-1v-1h-1v-1h-1v-3h1v-1h1v-1h1v-1zM736 210h3v1h1v1h1v1h1v3h-1v1h-1v1h-1v1h-3v-1h-1v-1h-1v-1h-1v-3h1v-1h1v-1h1v-1zM740 203h3v1h1v1h1v1h1v3h-1v1h-1v1h-1v1h-3v-1h-1v-1h-1v-1h-1v-3h1v-1h1v-1h1v-1zM743 222h3v1h1v1h1v1h1v3h-1v1h-1v1h-1v1h-3v-1h-1v-1h-1v-1h-1v-3h1v-1h1v-1h1v-1zM747 231h3v1h1v1h1v1h1v3h-1v1h-1v1h-1v1h-3v-1h-1v-1h-1v-1h-1v-3h1v-1h1v-1h1v-1zM751 229h3v1h1v1h1v1h1v3h-1v1h-1v1h-1v1h-3v-1h-1v-1h-1v-1h-1v-3h1v-1h1v-1h1v-1zM754 226h3v1h1v1h1v1h1v3h-1v1h-1v1h-1v1h-3v-1h-1v-1h-1v-1h-1v-3h1v-1h1v-1h1v-1zM757 224h3v1h1v1h1v1h1v3h-1v1h-1v1h-1v1h-3v-1h-1v-1h-1v-1h-1v-3h1v-1h1v-1h1v-1zM760 223h3v1h1v1h1v1h1v3h-1v1h-1v1h-1v1h-3v-1h-1v-1h-1v-1h-1v-3h1v-1h1v-1h1v-1z"/>
<polyline fill="none" stroke="#35b24c" stroke-width="2" stroke-linejoin="round" stroke-linecap="round" points="60,154.5 61.5,166.5 63,156 65.5,174.5 67.5,155 70.5,157.5 72.5,154 74.5,167.5 76.5,156 78.5,168 80,170 81.5,156 83,154 85,167 87.5,159 89,158 90.5,144 95,130.5 98,121.5 101.5,105.5 106,115.5 107.5,129.5 111.5,126.5 115,120.5 119.5,135 122.5,129 124.5,114.5 128,130.5 130,111 133,118 135.5,124.5 137.5,139.5 141,132 143,126 145,120 146,120.5 148,131 150.5,121 153,113 155.5,103 159.5,108.5 161,115 163.5,107 166,123 168.5,117 171,121 173,125 176,132.5 178.5,130 181,126 184.5,143.5 187.5,152.5 191,135.5 194.5,149.5 198,142 202.5,138 205,136 207.5,134 211.5,143 215.5,130 220,118.5 223,131 226,137.5 228.5,131 230.5,126.5 235,129.5 238,126 242.5,127.5 246,150 249.5,170.5 252,158 255,163 257,175 259.5,170 263,176 266,184 270,174 272.5,183 275.5,174 277,167 280,162 284,158 288,146 289,151 291.5,142.5 294,141.5 299,136 301,145 304.5,152.5 307,154 308,110.5 311,114.5 314.5,108 317,113 319,116 321,110 323,115 325.5,112 329,113.5 331,117 333.5,117.5 337.5,114 340.5,112.5 344,119 348,124 350.5,114 355.5,144.8 359,113 361,122 363,127 365.5,129.5 368,126 371,120 373.5,127 376,131 379.5,127.5 381,113 383,124 385,126 389.5,118 393,125.5 397.5,124.5 400,127 402.5,114.5 405,126 407.5,121 410.5,114.5 415,121 419.5,121 422.5,117.5 425.5,142.5 428,125.5 430.5,128 433,136 435.5,127.5 438,130 440.5,146 443,131 447.5,141 451,142 454,147.5 456.5,142 460.5,142 464.5,135.5 466.5,140 469,144 472,137 474,130.5 476,141 477.5,129 481,140.5 485.5,136 488,141 490.5,140 492.5,132.5 494,139 497.5,134 500,136 504,131 508,129 512.5,136 516,127 520,136 522,132 524.5,128 529.5,118.5 531,136 535,119.5 537,135 540,128 542.5,135 545,130 547,127 551,116 553,124 555,128 557.5,136 561,132 562.5,124.5 567,127 570,120 573,114 575.5,111.5 578,109.5 581,122.5 584.5,114.5 588,120.5 592,112.5 594.5,115.5 596.5,165 599.5,180 603.5,171 607.5,152.5 610.5,141 612.5,145 615,149 617,154 620.5,136 625,125.5 628,129.5 630.5,130.5 635,118.5 639,125.5 640,113 644,115.5 648,110.5 651,118.5 653,106 656,106 659,97 662.5,91 666,89.5 669,92 671,101 674,91 677,94 679.5,87.5 682.5,109.5 686,111 688,116 692,107 695.5,100.5 699,98 704,96 706,91.5 708.5,87.5 713,91 715,99 719,103 723,100.5 727,97.5 730,90 733,89 737.5,90 741,84 744,88 747.5,92 750.5,89 752,76 754.5,66.3 757,81 759.5,85.5"/>
<path fill="#35b24c" d="M59 150h3v1h1v1h1v1h1v3h-1v1h-1v1h-1v1h-3v-1h-1v-1h-1v-1h-1v-3h1v-1h1v-1h1v-1zM60 162h3v1h1v1h1v1h1v3h-1v1h-1v1h-1v1h-3v-1h-1v-1h-1v-1h-1v-3h1v-1h1v-1h1v-1zM62 152h3v1h1v1h1v1h1v3h-1v1h-1v1h-1v1h-3v-1h-1v-1h-1v-1h-1v-3h1v-1h1v-1h1v-1zM64 170h3v1h1v1h1v1h1v3h-1v1h-1v1h-1v1h-3v-1h-1v-1h-1v-1h-1v-3h1v-1h1v-1h1v-1zM66 151h3v1h1v1h1v1h1v3h-1v1h-1v1h-1v1h-3v-1h-1v-1h-1v-1h-1v-3h1v-1h1v-1h1v-1zM69 153h3v1h1v1h1v1h1v3h-1v1h-1v1h-1v1h-3v-1h-1v-1h-1v-1h-1v-3h1v-1h1v-1h1v-1zM71 150h3v1h1v1h1v1h1v3h-1v1h-1v1h-1v1h-3v-1h-1v-1h-1v-1h-1v-3h1v-1h1v-1h1v-1zM73 163h3v1h1v1h1v1h1v3h-1v1h-1v1h-1v1h-3v-1h-1v-1h-1v-1h-1v-3h1v-1h1v-1h1v-1zM75 152h3v1h1v1h1v1h1v3h-1v1h-1v1h-1v1h-3v-1h-1v-1h-1v-1h-1v-3h1v-1h1v-1h1v-1zM77 164h3v1h1v1h1v1h1v3h-1v1h-1v1h-1v1h-3v-1h-1v-1h-1v-1h-1v-3h1v-1h1v-1h1v-1zM79 166h3v1h1v1h1v1h1v3h-1v1h-1v1h-1v1h-3v-1h-1v-1h-1v-1h-1v-3h1v-1h1v-1h1v-1zM80 152h3v1h1v1h1v1h1v3h-1v1h-1v1h-1v1h-3v-1h-1v-1h-1v-1h-1v-3h1v-1h1v-1h1v-1zM82 150h3v1h1v1h1v1h1v3h-1v1h-1v1h-1v1h-3v-1h-1v-1h-1v-1h-1v-3h1v-1h1v-1h1v-1zM84 163h3v1h1v1h1v1h1v3h-1v1h-1v1h-1v1h-3v-1h-1v-1h-1v-1h-1v-3h1v-1h1v-1h1v-1zM86 155h3v1h1v1h1v1h1v3h-1v1h-1v1h-1v1h-3v-1h-1v-1h-1v-1h-1v-3h1v-1h1v-1h1v-1zM88 154h3v1h1v1h1v1h1v3h-1v1h-1v1h-1v1h-3v-1h-1v-1h-1v-1h-1v-3h1v-1h1v-1h1v-1zM89 140h3v1h1v1h1v1h1v3h-1v1h-1v1h-1v1h-3v-1h-1v-1h-1v-1h-1v-3h1v-1h1v-1h1v-1zM94 126h3v1h1v1h1v1h1v3h-1v1h-1v1h-1v1h-3v-1h-1v-1h-1v-1h-1v-3h1v-1h1v-1h1v-1zM97 117h3v1h1v1h1v1h1v3h-1v1h-1v1h-1v1h-3v-1h-1v-1h-1v-1h-1v-3h1v-1h1v-1h1v-1zM100 101h3v1h1v1h1v1h1v3h-1v1h-1v1h-1v1h-3v-1h-1v-1h-1v-1h-1v-3h1v-1h1v-1h1v-1zM105 111h3v1h1v1h1v1h1v3h-1v1h-1v1h-1v1h-3v-1h-1v-1h-1v-1h-1v-3h1v-1h1v-1h1v-1zM106 125h3v1h1v1h1v1h1v3h-1v1h-1v1h-1v1h-3v-1h-1v-1h-1v-1h-1v-3h1v-1h1v-1h1v-1zM110 122h3v1h1v1h1v1h1v3h-1v1h-1v1h-1v1h-3v-1h-1v-1h-1v-1h-1v-3h1v-1h1v-1h1v-1zM114 116h3v1h1v1h1v1h1v3h-1v1h-1v1h-1v1h-3v-1h-1v-1h-1v-1h-1v-3h1v-1h1v-1h1v-1zM118 131h3v1h1v1h1v1h1v3h-1v1h-1v1h-1v1h-3v-1h-1v-1h-1v-1h-1v-3h1v-1h1v-1h1v-1zM121 125h3v1h1v1h1v1h1v3h-1v1h-1v1h-1v1h-3v-1h-1v-1h-1v-1h-1v-3h1v-1h1v-1h1v-1zM123 110h3v1h1v1h1v1h1v3h-1v1h-1v1h-1v1h-3v-1h-1v-1h-1v-1h-1v-3h1v-1h1v-1h1v-1zM127 126h3v1h1v1h1v1h1v3h-1v1h-1v1h-1v1h-3v-1h-1v-1h-1v-1h-1v-3h1v-1h1v-1h1v-1zM129 107h3v1h1v1h1v1h1v3h-1v1h-1v1h-1v1h-3v-1h-1v-1h-1v-1h-1v-3h1v-1h1v-1h1v-1zM132 114h3v1h1v1h1v1h1v3h-1v1h-1v1h-1v1h-3v-1h-1v-1h-1v-1h-1v-3h1v-1h1v-1h1v-1zM134 120h3v1h1v1h1v1h1v3h-1v1h-1v1h-1v1h-3v-1h-1v-1h-1v-1h-1v-3h1v-1h1v-1h1v-1zM136 135h3v1h1v1h1v1h1v3h-1v1h-1v1h-1v1h-3v-1h-1v-1h-1v-1h-1v-3h1v-1h1v-1h1v-1zM140 128h3v1h1v1h1v1h1v3h-1v1h-1v1h-1v1h-3v-1h-1v-1h-1v-1h-1v-3h1v-1h1v-1h1v-1zM142 122h3v1h1v1h1v1h1v3h-1v1h-1v1h-1v1h-3v-1h-1v-1h-1v-1h-1v-3h1v-1h1v-1h1v-1zM144 116h3v1h1v1h1v1h1v3h-1v1h-1v1h-1v1h-3v-1h-1v-1h-1v-1h-1v-3h1v-1h1v-1h1v-1zM145 116h3v1h1v1h1v1h1v3h-1v1h-1v1h-1v1h-3v-1h-1v-1h-1v-1h-1v-3h1v-1h1v-1h1v-1zM147 127h3v1h1v1h1v1h1v3h-1v1h-1v1h-1v1h-3v-1h-1v-1h-1v-1h-1v-3h1v-1h1v-1h1v-1zM149 117h3v1h1v1h1v1h1v3h-1v1h-1v1h-1v1h-3v-1h-1v-1h-1v-1h-1v-3h1v-1h1v-1h1v-1zM152 109h3v1h1v1h1v1h1v3h-1v1h-1v1h-1v1h-3v-1h-1v-1h-1v-1h-1v-3h1v-1h1v-1h1v-1zM154 99h3v1h1v1h1v1h1v3h-1v1h-1v1h-1v1h-3v-1h-1v-1h-1v-1h-1v-3h1v-1h1v-1h1v-1zM158 104h3v1h1v1h1v1h1v3h-1v1h-1v1h-1v1h-3v-1h-1v-1h-1v-1h-1v-3h1v-1h1v-1h1v-1zM160 111h3v1h1v1h1v1h1v3h-1v1h-1v1h-1v1h-3v-1h-1v-1h-1v-1h-1v-3h1v-1h1v-1h1v-1zM162 103h3v1h1v1h1v1h1v3h-1v1h-1v1h-1v1h-3v-1h-1v-1h-1v-1h-1v-3h1v-1h1v-1h1v-1zM165 119h3v1h1v1h1v1h1v3h-1v1h-1v1h-1v1h-3v-1h-1v-1h-1v-1h-1v-3h1v-1h1v-1h1v-1zM167 113h3v1h1v1h1v1h1v3h-1v1h-1v1h-1v1h-3v-1h-1v-1h-1v-1h-1v-3h1v-1h1v-1h1v-1zM170 117h3v1h1v1h1v1h1v3h-1v1h-1v1h-1v1h-3v-1h-1v-1h-1v-1h-1v-3h1v-1h1v-1h1v-1zM172 121h3v1h1v1h1v1h1v3h-1v1h-1v1h-1v1h-3v-1h-1v-1h-1v-1h-1v-3h1v-1h1v-1h1v-1zM175 128h3v1h1v1h1v1h1v3h-1v1h-1v1h-1v1h-3v-1h-1v-1h-1v-1h-1v-3h1v-1h1v-1h1v-1zM177 126h3v1h1v1h1v1h1v3h-1v1h-1v1h-1v1h-3v-1h-1v-1h-1v-1h-1v-3h1v-1h1v-1h1v-1zM180 122h3v1h1v1h1v1h1v3h-1v1h-1v1h-1v1h-3v-1h-1v-1h-1v-1h-1v-3h1v-1h1v-1h1v-1zM183 139h3v1h1v1h1v1h1v3h-1v1h-1v1h-1v1h-3v-1h-1v-1h-1v-1h-1v-3h1v-1h1v-1h1v-1zM186 148h3v1h1v1h1v1h1v3h-1v1h-1v1h-1v1h-3v-1h-1v-1h-1v-1h-1v-3h1v-1h1v-1h1v-1zM190 131h3v1h1v1h1v1h1v3h-1v1h-1v1h-1v1h-3v-1h-1v-1h-1v-1h-1v-3h1v-1h1v-1h1v-1zM193 145h3v1h1v1h1v1h1v3h-1v1h-1v1h-1v1h-3v-1h-1v-1h-1v-1h-1v-3h1v-1h1v-1h1v-1zM197 138h3v1h1v1h1v1h1v3h-1v1h-1v1h-1v1h-3v-1h-1v-1h-1v-1h-1v-3h1v-1h1v-1h1v-1zM201 134h3v1h1v1h1v1h1v3h-1v1h-1v1h-1v1h-3v-1h-1v-1h-1v-1h-1v-3h1v-1h1v-1h1v-1zM204 132h3v1h1v1h1v1h1v3h-1v1h-1v1h-1v1h-3v-1h-1v-1h-1v-1h-1v-3h1v-1h1v-1h1v-1zM206 130h3v1h1v1h1v1h1v3h-1v1h-1v1h-1v1h-3v-1h-1v-1h-1v-1h-1v-3h1v-1h1v-1h1v-1zM210 139h3v1h1v1h1v1h1v3h-1v1h-1v1h-1v1h-3v-1h-1v-1h-1v-1h-1v-3h1v-1h1v-1h1v-1zM214 126h3v1h1v1h1v1h1v3h-1v1h-1v1h-1v1h-3v-1h-1v-1h-1v-1h-1v-3h1v-1h1v-1h1v-1zM219 114h3v1h1v1h1v1h1v3h-1v1h-1v1h-1v1h-3v-1h-1v-1h-1v-1h-1v-3h1v-1h1v-1h1v-1zM222 127h3v1h1v1h1v1h1v3h-1v1h-1v1h-1v1h-3v-1h-1v-1h-1v-1h-1v-3h1v-1h1v-1h1v-1zM225 133h3v1h1v1h1v1h1v3h-1v1h-1v1h-1v1h-3v-1h-1v-1h-1v-1h-1v-3h1v-1h1v-1h1v-1zM227 127h3v1h1v1h1v1h1v3h-1v1h-1v1h-1v1h-3v-1h-1v-1h-1v-1h-1v-3h1v-1h1v-1h1v-1zM229 122h3v1h1v1h1v1h1v3h-1v1h-1v1h-1v1h-3v-1h-1v-1h-1v-1h-1v-3h1v-1h1v-1h1v-1zM234 125h3v1h1v1h1v1h1v3h-1v1h-1v1h-1v1h-3v-1h-1v-1h-1v-1h-1v-3h1v-1h1v-1h1v-1zM237 122h3v1h1v1h1v1h1v3h-1v1h-1v1h-1v1h-3v-1h-1v-1h-1v-1h-1v-3h1v-1h1v-1h1v-1zM241 123h3v1h1v1h1v1h1v3h-1v1h-1v1h-1v1h-3v-1h-1v-1h-1v-1h-1v-3h1v-1h1v-1h1v-1zM245 146h3v1h1v1h1v1h1v3h-1v1h-1v1h-1v1h-3v-1h-1v-1h-1v-1h-1v-3h1v-1h1v-1h1v-1zM248 166h3v1h1v1h1v1h1v3h-1v1h-1v1h-1v1h-3v-1h-1v-1h-1v-1h-1v-3h1v-1h1v-1h1v-1zM251 154h3v1h1v1h1v1h1v3h-1v1h-1v1h-1v1h-3v-1h-1v-1h-1v-1h-1v-3h1v-1h1v-1h1v-1zM254 159h3v1h1v1h1v1h1v3h-1v1h-1v1h-1v1h-3v-1h-1v-1h-1v-1h-1v-3h1v-1h1v-1h1v-1zM256 171h3v1h1v1h1v1h1v3h-1v1h-1v1h-1v1h-3v-1h-1v-1h-1v-1h-1v-3h1v-1h1v-1h1v-1zM258 166h3v1h1v1h1v1h1v3h-1v1h-1v1h-1v1h-3v-1h-1v-1h-1v-1h-1v-3h1v-1h1v-1h1v-1zM262 172h3v1h1v1h1v1h1v3h-1v1h-1v1h-1v1h-3v-1h-1v-1h-1v-1h-1v-3h1v-1h1v-1h1v-1zM265 180h3v1h1v1h1v1h1v3h-1v1h-1v1h-1v1h-3v-1h-1v-1h-1v-1h-1v-3h1v-1h1v-1h1v-1zM269 170h3v1h1v1h1v1h1v3h-1v1h-1v1h-1v1h-3v-1h-1v-1h-1v-1h-1v-3h1v-1h1v-1h1v-1zM271 179h3v1h1v1h1v1h1v3h-1v1h-1v1h-1v1h-3v-1h-1v-1h-1v-1h-1v-3h1v-1h1v-1h1v-1zM274 170h3v1h1v1h1v1h1v3h-1v1h-1v1h-1v1h-3v-1h-1v-1h-1v-1h-1v-3h1v-1h1v-1h1v-1zM276 163h3v1h1v1h1v1h1v3h-1v1h-1v1h-1v1h-3v-1h-1v-1h-1v-1h-1v-3h1v-1h1v-1h1v-1zM279 158h3v1h1v1h1v1h1v3h-1v1h-1v1h-1v1h-3v-1h-1v-1h-1v-1h-1v-3h1v-1h1v-1h1v-1zM283 154h3v1h1v1h1v1h1v3h-1v1h-1v1h-1v1h-3v-1h-1v-1h-1v-1h-1v-3h1v-1h1v-1h1v-1zM287 142h3v1h1v1h1v1h1v3h-1v1h-1v1h-1v1h-3v-1h-1v-1h-1v-1h-1v-3h1v-1h1v-1h1v-1zM288 147h3v1h1v1h1v1h1v3h-1v1h-1v1h-1v1h-3v-1h-1v-1h-1v-1h-1v-3h1v-1h1v-1h1v-1zM290 138h3v1h1v1h1v1h1v3h-1v1h-1v1h-1v1h-3v-1h-1v-1h-1v-1h-1v-3h1v-1h1v-1h1v-1zM293 137h3v1h1v1h1v1h1v3h-1v1h-1v1h-1v1h-3v-1h-1v-1h-1v-1h-1v-3h1v-1h1v-1h1v-1zM298 132h3v1h1v1h1v1h1v3h-1v1h-1v1h-1v1h-3v-1h-1v-1h-1v-1h-1v-3h1v-1h1v-1h1v-1zM300 141h3v1h1v1h1v1h1v3h-1v1h-1v1h-1v1h-3v-1h-1v-1h-1v-1h-1v-3h1v-1h1v-1h1v-1zM303 148h3v1h1v1h1v1h1v3h-1v1h-1v1h-1v1h-3v-1h-1v-1h-1v-1h-1v-3h1v-1h1v-1h1v-1zM306 150h3v1h1v1h1v1h1v3h-1v1h-1v1h-1v1h-3v-1h-1v-1h-1v-1h-1v-3h1v-1h1v-1h1v-1zM307 106h3v1h1v1h1v1h1v3h-1v1h-1v1h-1v1h-3v-1h-1v-1h-1v-1h-1v-3h1v-1h1v-1h1v-1zM310 110h3v1h1v1h1v1h1v3h-1v1h-1v1h-1v1h-3v-1h-1v-1h-1v-1h-1v-3h1v-1h1v-1h1v-1zM313 104h3v1h1v1h1v1h1v3h-1v1h-1v1h-1v1h-3v-1h-1v-1h-1v-1h-1v-3h1v-1h1v-1h1v-1zM316 109h3v1h1v1h1v1h1v3h-1v1h-1v1h-1v1h-3v-1h-1v-1h-1v-1h-1v-3h1v-1h1v-1h1v-1zM318 112h3v1h1v1h1v1h1v3h-1v1h-1v1h-1v1h-3v-1h-1v-1h-1v-1h-1v-3h1v-1h1v-1h1v-1zM320 106h3v1h1v1h1v1h1v3h-1v1h-1v1h-1v1h-3v-1h-1v-1h-1v-1h-1v-3h1v-1h1v-1h1v-1zM322 111h3v1h1v1h1v1h1v3h-1v1h-1v1h-1v1h-3v-1h-1v-1h-1v-1h-1v-3h1v-1h1v-1h1v-1zM324 108h3v1h1v1h1v1h1v3h-1v1h-1v1h-1v1h-3v-1h-1v-1h-1v-1h-1v-3h1v-1h1v-1h1v-1zM328 109h3v1h1v1h1v1h1v3h-1v1h-1v1h-1v1h-3v-1h-1v-1h-1v-1h-1v-3h1v-1h1v-1h1v-1zM330 113h3v1h1v1h1v1h1v3h-1v1h-1v1h-1v1h-3v-1h-1v-1h-1v-1h-1v-3h1v-1h1v-1h1v-1zM332 113h3v1h1v1h1v1h1v3h-1v1h-1v1h-1v1h-3v-1h-1v-1h-1v-1h-1v-3h1v-1h1v-1h1v-1zM336 110h3v1h1v1h1v1h1v3h-1v1h-1v1h-1v1h-3v-1h-1v-1h-1v-1h-1v-3h1v-1h1v-1h1v-1zM339 108h3v1h1v1h1v1h1v3h-1v1h-1v1h-1v1h-3v-1h-1v-1h-1v-1h-1v-3h1v-1h1v-1h1v-1zM343 115h3v1h1v1h1v1h1v3h-1v1h-1v1h-1v1h-3v-1h-1v-1h-1v-1h-1v-3h1v-1h1v-1h1v-1zM347 120h3v1h1v1h1v1h1v3h-1v1h-1v1h-1v1h-3v-1h-1v-1h-1v-1h-1v-3h1v-1h1v-1h1v-1zM349 110h3v1h1v1h1v1h1v3h-1v1h-1v1h-1v1h-3v-1h-1v-1h-1v-1h-1v-3h1v-1h1v-1h1v-1zM354 140h3v1h1v1h1v1h1v3h-1v1h-1v1h-1v1h-3v-1h-1v-1h-1v-1h-1v-3h1v-1h1v-1h1v-1zM358 109h3v1h1v1h1v1h1v3h-1v1h-1v1h-1v1h-3v-1h-1v-1h-1v-1h-1v-3h1v-1h1v-1h1v-1zM360 118h3v1h1v1h1v1h1v3h-1v1h-1v1h-1v1h-3v-1h-1v-1h-1v-1h-1v-3h1v-1h1v-1h1v-1zM362 123h3v1h1v1h1v1h1v3h-1v1h-1v1h-1v1h-3v-1h-1v-1h-1v-1h-1v-3h1v-1h1v-1h1v-1zM364 125h3v1h1v1h1v1h1v3h-1v1h-1v1h-1v1h-3v-1h-1v-1h-1v-1h-1v-3h1v-1h1v-1h1v-1zM367 122h3v1h1v1h1v1h1v3h-1v1h-1v1h-1v1h-3v-1h-1v-1h-1v-1h-1v-3h1v-1h1v-1h1v-1zM370 116h3v1h1v1h1v1h1v3h-1v1h-1v1h-1v1h-3v-1h-1v-1h-1v-1h-1v-3h1v-1h1v-1h1v-1zM372 123h3v1h1v1h1v1h1v3h-1v1h-1v1h-1v1h-3v-1h-1v-1h-1v-1h-1v-3h1v-1h1v-1h1v-1zM375 127h3v1h1v1h1v1h1v3h-1v1h-1v1h-1v1h-3v-1h-1v-1h-1v-1h-1v-3h1v-1h1v-1h1v-1zM378 123h3v1h1v1h1v1h1v3h-1v1h-1v1h-1v1h-3v-1h-1v-1h-1v-1h-1v-3h1v-1h1v-1h1v-1zM380 109h3v1h1v1h1v1h1v3h-1v1h-1v1h-1v1h-3v-1h-1v-1h-1v-1h-1v-3h1v-1h1v-1h1v-1zM382 120h3v1h1v1h1v1h1v3h-1v1h-1v1h-1v1h-3v-1h-1v-1h-1v-1h-1v-3h1v-1h1v-1h1v-1zM384 122h3v1h1v1h1v1h1v3h-1v1h-1v1h-1v1h-3v-1h-1v-1h-1v-1h-1v-3h1v-1h1v-1h1v-1zM388 114h3v1h1v1h1v1h1v3h-1v1h-1v1h-1v1h-3v-1h-1v-1h-1v-1h-1v-3h1v-1h1v-1h1v-1zM392 121h3v1h1v1h1v1h1v3h-1v1h-1v1h-1v1h-3v-1h-1v-1h-1v-1h-1v-3h1v-1h1v-1h1v-1zM396 120h3v1h1v1h1v1h1v3h-1v1h-1v1h-1v1h-3v-1h-1v-1h-1v-1h-1v-3h1v-1h1v-1h1v-1zM399 123h3v1h1v1h1v1h1v3h-1v1h-1v1h-1v1h-3v-1h-1v-1h-1v-1h-1v-3h1v-1h1v-1h1v-1zM401 110h3v1h1v1h1v1h1v3h-1v1h-1v1h-1v1h-3v-1h-1v-1h-1v-1h-1v-3h1v-1h1v-1h1v-1zM404 122h3v1h1v1h1v1h1v3h-1v1h-1v1h-1v1h-3v-1h-1v-1h-1v-1h-1v-3h1v-1h1v-1h1v-1zM406 117h3v1h1v1h1v1h1v3h-1v1h-1v1h-1v1h-3v-1h-1v-1h-1v-1h-1v-3h1v-1h1v-1h1v-1zM409 110h3v1h1v1h1v1h1v3h-1v1h-1v1h-1v1h-3v-1h-1v-1h-1v-1h-1v-3h1v-1h1v-1h1v-1zM414 117h3v1h1v1h1v1h1v3h-1v1h-1v1h-1v1h-3v-1h-1v-1h-1v-1h-1v-3h1v-1h1v-1h1v-1zM418 117h3v1h1v1h1v1h1v3h-1v1h-1v1h-1v1h-3v-1h-1v-1h-1v-1h-1v-3h1v-1h1v-1h1v-1zM421 113h3v1h1v1h1v1h1v3h-1v1h-1v1h-1v1h-3v-1h-1v-1h-1v-1h-1v-3h1v-1h1v-1h1v-1zM424 138h3v1h1v1h1v1h1v3h-1v1h-1v1h-1v1h-3v-1h-1v-1h-1v-1h-1v-3h1v-1h1v-1h1v-1zM427 121h3v1h1v1h1v1h1v3h-1v1h-1v1h-1v1h-3v-1h-1v-1h-1v-1h-1v-3h1v-1h1v-1h1v-1zM429 124h3v1h1v1h1v1h1v3h-1v1h-1v1h-1v1h-3v-1h-1v-1h-1v-1h-1v-3h1v-1h1v-1h1v-1zM432 132h3v1h1v1h1v1h1v3h-1v1h-1v1h-1v1h-3v-1h-1v-1h-1v-1h-1v-3h1v-1h1v-1h1v-1zM434 123h3v1h1v1h1v1h1v3h-1v1h-1v1h-1v1h-3v-1h-1v-1h-1v-1h-1v-3h1v-1h1v-1h1v-1zM437 126h3v1h1v1h1v1h1v3h-1v1h-1v1h-1v1h-3v-1h-1v-1h-1v-1h-1v-3h1v-1h1v-1h1v-1zM439 142h3v1h1v1h1v1h1v3h-1v1h-1v1h-1v1h-3v-1h-1v-1h-1v-1h-1v-3h1v-1h1v-1h1v-1zM442 127h3v1h1v1h1v1h1v3h-1v1h-1v1h-1v1h-3v-1h-1v-1h-1v-1h-1v-3h1v-1h1v-1h1v-1zM446 137h3v1h1v1h1v1h1v3h-1v1h-1v1h-1v1h-3v-1h-1v-1h-1v-1h-1v-3h1v-1h1v-1h1v-1zM450 138h3v1h1v1h1v1h1v3h-1v1h-1v1h-1v1h-3v-1h-1v-1h-1v-1h-1v-3h1v-1h1v-1h1v-1zM453 143h3v1h1v1h1v1h1v3h-1v1h-1v1h-1v1h-3v-1h-1v-1h-1v-1h-1v-3h1v-1h1v-1h1v-1zM455 138h3v1h1v1h1v1h1v3h-1v1h-1v1h-1v1h-3v-1h-1v-1h-1v-1h-1v-3h1v-1h1v-1h1v-1zM459 138h3v1h1v1h1v1h1v3h-1v1h-1v1h-1v1h-3v-1h-1v-1h-1v-1h-1v-3h1v-1h1v-1h1v-1zM463 131h3v1h1v1h1v1h1v3h-1v1h-1v1h-1v1h-3v-1h-1v-1h-1v-1h-1v-3h1v-1h1v-1h1v-1zM465 136h3v1h1v1h1v1h1v3h-1v1h-1v1h-1v1h-3v-1h-1v-1h-1v-1h-1v-3h1v-1h1v-1h1v-1zM468 140h3v1h1v1h1v1h1v3h-1v1h-1v1h-1v1h-3v-1h-1v-1h-1v-1h-1v-3h1v-1h1v-1h1v-1zM471 133h3v1h1v1h1v1h1v3h-1v1h-1v1h-1v1h-3v-1h-1v-1h-1v-1h-1v-3h1v-1h1v-1h1v-1zM473 126h3v1h1v1h1v1h1v3h-1v1h-1v1h-1v1h-3v-1h-1v-1h-1v-1h-1v-3h1v-1h1v-1h1v-1zM475 137h3v1h1v1h1v1h1v3h-1v1h-1v1h-1v1h-3v-1h-1v-1h-1v-1h-1v-3h1v-1h1v-1h1v-1zM476 125h3v1h1v1h1v1h1v3h-1v1h-1v1h-1v1h-3v-1h-1v-1h-1v-1h-1v-3h1v-1h1v-1h1v-1zM480 136h3v1h1v1h1v1h1v3h-1v1h-1v1h-1v1h-3v-1h-1v-1h-1v-1h-1v-3h1v-1h1v-1h1v-1zM484 132h3v1h1v1h1v1h1v3h-1v1h-1v1h-1v1h-3v-1h-1v-1h-1v-1h-1v-3h1v-1h1v-1h1v-1zM487 137h3v1h1v1h1v1h1v3h-1v1h-1v1h-1v1h-3v-1h-1v-1h-1v-1h-1v-3h1v-1h1v-1h1v-1zM489 136h3v1h1v1h1v1h1v3h-1v1h-1v1h-1v1h-3v-1h-1v-1h-1v-1h-1v-3h1v-1h1v-1h1v-1zM491 128h3v1h1v1h1v1h1v3h-1v1h-1v1h-1v1h-3v-1h-1v-1h-1v-1h-1v-3h1v-1h1v-1h1v-1zM493 135h3v1h1v1h1v1h1v3h-1v1h-1v1h-1v1h-3v-1h-1v-1h-1v-1h-1v-3h1v-1h1v-1h1v-1zM496 130h3v1h1v1h1v1h1v3h-1v1h-1v1h-1v1h-3v-1h-1v-1h-1v-1h-1v-3h1v-1h1v-1h1v-1zM499 132h3v1h1v1h1v1h1v3h-1v1h-1v1h-1v1h-3v-1h-1v-1h-1v-1h-1v-3h1v-1h1v-1h1v-1zM503 127h3v1h1v1h1v1h1v3h-1v1h-1v1h-1v1h-3v-1h-1v-1h-1v-1h-1v-3h1v-1h1v-1h1v-1zM507 125h3v1h1v1h1v1h1v3h-1v1h-1v1h-1v1h-3v-1h-1v-1h-1v-1h-1v-3h1v-1h1v-1h1v-1zM511 132h3v1h1v1h1v1h1v3h-1v1h-1v1h-1v1h-3v-1h-1v-1h-1v-1h-1v-3h1v-1h1v-1h1v-1zM515 123h3v1h1v1h1v1h1v3h-1v1h-1v1h-1v1h-3v-1h-1v-1h-1v-1h-1v-3h1v-1h1v-1h1v-1zM519 132h3v1h1v1h1v1h1v3h-1v1h-1v1h-1v1h-3v-1h-1v-1h-1v-1h-1v-3h1v-1h1v-1h1v-1zM521 128h3v1h1v1h1v1h1v3h-1v1h-1v1h-1v1h-3v-1h-1v-1h-1v-1h-1v-3h1v-1h1v-1h1v-1zM523 124h3v1h1v1h1v1h1v3h-1v1h-1v1h-1v1h-3v-1h-1v-1h-1v-1h-1v-3h1v-1h1v-1h1v-1zM528 114h3v1h1v1h1v1h1v3h-1v1h-1v1h-1v1h-3v-1h-1v-1h-1v-1h-1v-3h1v-1h1v-1h1v-1zM530 132h3v1h1v1h1v1h1v3h-1v1h-1v1h-1v1h-3v-1h-1v-1h-1v-1h-1v-3h1v-1h1v-1h1v-1zM534 115h3v1h1v1h1v1h1v3h-1v1h-1v1h-1v1h-3v-1h-1v-1h-1v-1h-1v-3h1v-1h1v-1h1v-1zM536 131h3v1h1v1h1v1h1v3h-1v1h-1v1h-1v1h-3v-1h-1v-1h-1v-1h-1v-3h1v-1h1v-1h1v-1zM539 124h3v1h1v1h1v1h1v3h-1v1h-1v1h-1v1h-3v-1h-1v-1h-1v-1h-1v-3h1v-1h1v-1h1v-1zM541 131h3v1h1v1h1v1h1v3h-1v1h-1v1h-1v1h-3v-1h-1v-1h-1v-1h-1v-3h1v-1h1v-1h1v-1zM544 126h3v1h1v1h1v1h1v3h-1v1h-1v1h-1v1h-3v-1h-1v-1h-1v-1h-1v-3h1v-1h1v-1h1v-1zM546 123h3v1h1v1h1v1h1v3h-1v1h-1v1h-1v1h-3v-1h-1v-1h-1v-1h-1v-3h1v-1h1v-1h1v-1zM550 112h3v1h1v1h1v1h1v3h-1v1h-1v1h-1v1h-3v-1h-1v-1h-1v-1h-1v-3h1v-1h1v-1h1v-1zM552 120h3v1h1v1h1v1h1v3h-1v1h-1v1h-1v1h-3v-1h-1v-1h-1v-1h-1v-3h1v-1h1v-1h1v-1zM554 124h3v1h1v1h1v1h1v3h-1v1h-1v1h-1v1h-3v-1h-1v-1h-1v-1h-1v-3h1v-1h1v-1h1v-1zM556 132h3v1h1v1h1v1h1v3h-1v1h-1v1h-1v1h-3v-1h-1v-1h-1v-1h-1v-3h1v-1h1v-1h1v-1zM560 128h3v1h1v1h1v1h1v3h-1v1h-1v1h-1v1h-3v-1h-1v-1h-1v-1h-1v-3h1v-1h1v-1h1v-1zM561 120h3v1h1v1h1v1h1v3h-1v1h-1v1h-1v1h-3v-1h-1v-1h-1v-1h-1v-3h1v-1h1v-1h1v-1zM566 123h3v1h1v1h1v1h1v3h-1v1h-1v1h-1v1h-3v-1h-1v-1h-1v-1h-1v-3h1v-1h1v-1h1v-1zM569 116h3v1h1v1h1v1h1v3h-1v1h-1v1h-1v1h-3v-1h-1v-1h-1v-1h-1v-3h1v-1h1v-1h1v-1zM572 110h3v1h1v1h1v1h1v3h-1v1h-1v1h-1v1h-3v-1h-1v-1h-1v-1h-1v-3h1v-1h1v-1h1v-1zM574 107h3v1h1v1h1v1h1v3h-1v1h-1v1h-1v1h-3v-1h-1v-1h-1v-1h-1v-3h1v-1h1v-1h1v-1zM577 105h3v1h1v1h1v1h1v3h-1v1h-1v1h-1v1h-3v-1h-1v-1h-1v-1h-1v-3h1v-1h1v-1h1v-1zM580 118h3v1h1v1h1v1h1v3h-1v1h-1v1h-1v1h-3v-1h-1v-1h-1v-1h-1v-3h1v-1h1v-1h1v-1zM583 110h3v1h1v1h1v1h1v3h-1v1h-1v1h-1v1h-3v-1h-1v-1h-1v-1h-1v-3h1v-1h1v-1h1v-1zM587 116h3v1h1v1h1v1h1v3h-1v1h-1v1h-1v1h-3v-1h-1v-1h-1v-1h-1v-3h1v-1h1v-1h1v-1zM591 108h3v1h1v1h1v1h1v3h-1v1h-1v1h-1v1h-3v-1h-1v-1h-1v-1h-1v-3h1v-1h1v-1h1v-1zM593 111h3v1h1v1h1v1h1v3h-1v1h-1v1h-1v1h-3v-1h-1v-1h-1v-1h-1v-3h1v-1h1v-1h1v-1zM595 161h3v1h1v1h1v1h1v3h-1v1h-1v1h-1v1h-3v-1h-1v-1h-1v-1h-1v-3h1v-1h1v-1h1v-1zM598 176h3v1h1v1h1v1h1v3h-1v1h-1v1h-1v1h-3v-1h-1v-1h-1v-1h-1v-3h1v-1h1v-1h1v-1zM602 167h3v1h1v1h1v1h1v3h-1v1h-1v1h-1v1h-3v-1h-1v-1h-1v-1h-1v-3h1v-1h1v-1h1v-1zM606 148h3v1h1v1h1v1h1v3h-1v1h-1v1h-1v1h-3v-1h-1v-1h-1v-1h-1v-3h1v-1h1v-1h1v-1zM609 137h3v1h1v1h1v1h1v3h-1v1h-1v1h-1v1h-3v-1h-1v-1h-1v-1h-1v-3h1v-1h1v-1h1v-1zM611 141h3v1h1v1h1v1h1v3h-1v1h-1v1h-1v1h-3v-1h-1v-1h-1v-1h-1v-3h1v-1h1v-1h1v-1zM614 145h3v1h1v1h1v1h1v3h-1v1h-1v1h-1v1h-3v-1h-1v-1h-1v-1h-1v-3h1v-1h1v-1h1v-1zM616 150h3v1h1v1h1v1h1v3h-1v1h-1v1h-1v1h-3v-1h-1v-1h-1v-1h-1v-3h1v-1h1v-1h1v-1zM619 132h3v1h1v1h1v1h1v3h-1v1h-1v1h-1v1h-3v-1h-1v-1h-1v-1h-1v-3h1v-1h1v-1h1v-1zM624 121h3v1h1v1h1v1h1v3h-1v1h-1v1h-1v1h-3v-1h-1v-1h-1v-1h-1v-3h1v-1h1v-1h1v-1zM627 125h3v1h1v1h1v1h1v3h-1v1h-1v1h-1v1h-3v-1h-1v-1h-1v-1h-1v-3h1v-1h1v-1h1v-1zM629 126h3v1h1v1h1v1h1v3h-1v1h-1v1h-1v1h-3v-1h-1v-1h-1v-1h-1v-3h1v-1h1v-1h1v-1zM634 114h3v1h1v1h1v1h1v3h-1v1h-1v1h-1v1h-3v-1h-1v-1h-1v-1h-1v-3h1v-1h1v-1h1v-1zM638 121h3v1h1v1h1v1h1v3h-1v1h-1v1h-1v1h-3v-1h-1v-1h-1v-1h-1v-3h1v-1h1v-1h1v-1zM639 109h3v1h1v1h1v1h1v3h-1v1h-1v1h-1v1h-3v-1h-1v-1h-1v-1h-1v-3h1v-1h1v-1h1v-1zM643 111h3v1h1v1h1v1h1v3h-1v1h-1v1h-1v1h-3v-1h-1v-1h-1v-1h-1v-3h1v-1h1v-1h1v-1zM647 106h3v1h1v1h1v1h1v3h-1v1h-1v1h-1v1h-3v-1h-1v-1h-1v-1h-1v-3h1v-1h1v-1h1v-1zM650 114h3v1h1v1h1v1h1v3h-1v1h-1v1h-1v1h-3v-1h-1v-1h-1v-1h-1v-3h1v-1h1v-1h1v-1zM652 102h3v1h1v1h1v1h1v3h-1v1h-1v1h-1v1h-3v-1h-1v-1h-1v-1h-1v-3h1v-1h1v-1h1v-1zM655 102h3v1h1v1h1v1h1v3h-1v1h-1v1h-1v1h-3v-1h-1v-1h-1v-1h-1v-3h1v-1h1v-1h1v-1zM658 93h3v1h1v1h1v1h1v3h-1v1h-1v1h-1v1h-3v-1h-1v-1h-1v-1h-1v-3h1v-1h1v-1h1v-1zM661 87h3v1h1v1h1v1h1v3h-1v1h-1v1h-1v1h-3v-1h-1v-1h-1v-1h-1v-3h1v-1h1v-1h1v-1zM665 85h3v1h1v1h1v1h1v3h-1v1h-1v1h-1v1h-3v-1h-1v-1h-1v-1h-1v-3h1v-1h1v-1h1v-1zM668 88h3v1h1v1h1v1h1v3h-1v1h-1v1h-1v1h-3v-1h-1v-1h-1v-1h-1v-3h1v-1h1v-1h1v-1zM670 97h3v1h1v1h1v1h1v3h-1v1h-1v1h-1v1h-3v-1h-1v-1h-1v-1h-1v-3h1v-1h1v-1h1v-1zM673 87h3v1h1v1h1v1h1v3h-1v1h-1v1h-1v1h-3v-1h-1v-1h-1v-1h-1v-3h1v-1h1v-1h1v-1zM676 90h3v1h1v1h1v1h1v3h-1v1h-1v1h-1v1h-3v-1h-1v-1h-1v-1h-1v-3h1v-1h1v-1h1v-1zM678 83h3v1h1v1h1v1h1v3h-1v1h-1v1h-1v1h-3v-1h-1v-1h-1v-1h-1v-3h1v-1h1v-1h1v-1zM681 105h3v1h1v1h1v1h1v3h-1v1h-1v1h-1v1h-3v-1h-1v-1h-1v-1h-1v-3h1v-1h1v-1h1v-1zM685 107h3v1h1v1h1v1h1v3h-1v1h-1v1h-1v1h-3v-1h-1v-1h-1v-1h-1v-3h1v-1h1v-1h1v-1zM687 112h3v1h1v1h1v1h1v3h-1v1h-1v1h-1v1h-3v-1h-1v-1h-1v-1h-1v-3h1v-1h1v-1h1v-1zM691 103h3v1h1v1h1v1h1v3h-1v1h-1v1h-1v1h-3v-1h-1v-1h-1v-1h-1v-3h1v-1h1v-1h1v-1zM694 96h3v1h1v1h1v1h1v3h-1v1h-1v1h-1v1h-3v-1h-1v-1h-1v-1h-1v-3h1v-1h1v-1h1v-1zM698 94h3v1h1v1h1v1h1v3h-1v1h-1v1h-1v1h-3v-1h-1v-1h-1v-1h-1v-3h1v-1h1v-1h1v-1zM703 92h3v1h1v1h1v1h1v3h-1v1h-1v1h-1v1h-3v-1h-1v-1h-1v-1h-1v-3h1v-1h1v-1h1v-1zM705 87h3v1h1v1h1v1h1v3h-1v1h-1v1h-1v1h-3v-1h-1v-1h-1v-1h-1v-3h1v-1h1v-1h1v-1zM707 83h3v1h1v1h1v1h1v3h-1v1h-1v1h-1v1h-3v-1h-1v-1h-1v-1h-1v-3h1v-1h1v-1h1v-1zM712 87h3v1h1v1h1v1h1v3h-1v1h-1v1h-1v1h-3v-1h-1v-1h-1v-1h-1v-3h1v-1h1v-1h1v-1zM714 95h3v1h1v1h1v1h1v3h-1v1h-1v1h-1v1h-3v-1h-1v-1h-1v-1h-1v-3h1v-1h1v-1h1v-1zM718 99h3v1h1v1h1v1h1v3h-1v1h-1v1h-1v1h-3v-1h-1v-1h-1v-1h-1v-3h1v-1h1v-1h1v-1zM722 96h3v1h1v1h1v1h1v3h-1v1h-1v1h-1v1h-3v-1h-1v-1h-1v-1h-1v-3h1v-1h1v-1h1v-1zM726 93h3v1h1v1h1v1h1v3h-1v1h-1v1h-1v1h-3v-1h-1v-1h-1v-1h-1v-3h1v-1h1v-1h1v-1zM729 86h3v1h1v1h1v1h1v3h-1v1h-1v1h-1v1h-3v-1h-1v-1h-1v-1h-1v-3h1v-1h1v-1h1v-1zM732 85h3v1h1v1h1v1h1v3h-1v1h-1v1h-1v1h-3v-1h-1v-1h-1v-1h-1v-3h1v-1h1v-1h1v-1zM736 86h3v1h1v1h1v1h1v3h-1v1h-1v1h-1v1h-3v-1h-1v-1h-1v-1h-1v-3h1v-1h1v-1h1v-1zM740 80h3v1h1v1h1v1h1v3h-1v1h-1v1h-1v1h-3v-1h-1v-1h-1v-1h-1v-3h1v-1h1v-1h1v-1zM743 84h3v1h1v1h1v1h1v3h-1v1h-1v1h-1v1h-3v-1h-1v-1h-1v-1h-1v-3h1v-1h1v-1h1v-1zM746 88h3v1h1v1h1v1h1v3h-1v1h-1v1h-1v1h-3v-1h-1v-1h-1v-1h-1v-3h1v-1h1v-1h1v-1zM749 85h3v1h1v1h1v1h1v3h-1v1h-1v1h-1v1h-3v-1h-1v-1h-1v-1h-1v-3h1v-1h1v-1h1v-1zM751 72h3v1h1v1h1v1h1v3h-1v1h-1v1h-1v1h-3v-1h-1v-1h-1v-1h-1v-3h1v-1h1v-1h1v-1zM753 62h3v1h1v1h1v1h1v3h-1v1h-1v1h-1v1h-3v-1h-1v-1h-1v-1h-1v-3h1v-1h1v-1h1v-1zM756 77h3v1h1v1h1v1h1v3h-1v1h-1v1h-1v1h-3v-1h-1v-1h-1v-1h-1v-3h1v-1h1v-1h1v-1zM758 81h3v1h1v1h1v1h1v3h-1v1h-1v1h-1v1h-3v-1h-1v-1h-1v-1h-1v-3h1v-1h1v-1h1v-1z"/>
<polyline fill="none" stroke="#cccccc" stroke-width="2" stroke-linejoin="round" stroke-linecap="round" points="61,133.5 65.5,115.5 67.5,120 70.5,130.5 72.5,121.5 75.5,152.5 78.5,125.5 81,138 85,134.5 87.5,161 92.5,147.5 96,137.5 99,132.5 101,167.5 104,152.5 106,135 110,139 111,125 115,142.5 116,162.5 120,169 124,160 127.5,164 131,169 136,164 140,170 145,162.5 148,162.5 150,177 153.5,167 156,177.5 161,172 164,178 166,195.5 168.5,177 172,182 174.5,171 177,180 179.5,190 182.5,205 185,195 188,183 190.5,190 193,193.5 197,207 199,200 202.5,185 204.5,207.5 207.5,204 209.5,217 213.5,219 219.5,210.5 224,207 229,205.5 234,205.5 237,199 240,193 242.5,188 244.5,175 246,132.5 249,135 251,112.5 254,132.5 257.5,150 260,134 264.5,162 265.5,149 270,137 272.5,148 276,136 279.5,147 282,151 285,160.5 289,167 291,174 295.5,170.5 301,165 305.5,169 311,174 314.5,163 317.5,173 320,188 322.5,181 325,183 329,176 334,182.5 337.5,174 340,167.5 342.5,159 345,179 347.5,191 350.5,173 352.5,169 357,172 358,192 360.5,195 364,175.5 365.5,182 368,168 371,169 374,167.5 377,177.5 380.5,189 384.5,198 386,178 390,178 391,192.5 395,192 397.5,200.5 399.5,207 402,196 404.5,185.5 405.5,195 408,199 410.5,197.5 412,214 414.5,212.5 417,210.5 420.5,214 422.5,200 424.5,210 426,212 428.5,211 430,203 431.5,212.5 434.5,215.5 437,210 439,204 440,213 444,215.5 446,220 449,226 451.5,217 454,210.5 455.5,222 458,226 460,220 462,216 465,209 467,204 469.5,199 472,210 474.5,213 477,216 479,208 480.5,200.5 484,210 488,216.5 492.5,210.5 497,232 502.5,228.5 506,237.5 511,245 516,241 520,241 524,242.5 526,279 530,271 534,279 539,281 545,281 551,282.5 556,282.5 557.5,271 562.5,267.5 567.5,262.5 570.5,276 575,270 580,276 584,271 587.5,265 591,259 595.8,266 596.3,192 601,189 604.5,202 607.5,181 611,187.5 615,211 620,221 624,214 627.5,234 631,235 634,241 637.5,240 640,250 643,260 649,259 652.5,245 656,250 660,256 665,262.5 670,260 675,265 677.5,259 680,252.5 685,249 690,247 695,241 700,242.5 704,238 707.5,233 712.5,241 716,235 719,220 722.5,224 725,232.5 731,230 734,236 739,226 742.5,232.5 746,231 749,220 752.5,199 755,207.5 758,220 761,234"/>
<path fill="#cccccc" d="M60 129h3v1h1v1h1v1h1v3h-1v1h-1v1h-1v1h-3v-1h-1v-1h-1v-1h-1v-3h1v-1h1v-1h1v-1zM64 111h3v1h1v1h1v1h1v3h-1v1h-1v1h-1v1h-3v-1h-1v-1h-1v-1h-1v-3h1v-1h1v-1h1v-1zM66 116h3v1h1v1h1v1h1v3h-1v1h-1v1h-1v1h-3v-1h-1v-1h-1v-1h-1v-3h1v-1h1v-1h1v-1zM69 126h3v1h1v1h1v1h1v3h-1v1h-1v1h-1v1h-3v-1h-1v-1h-1v-1h-1v-3h1v-1h1v-1h1v-1zM71 117h3v1h1v1h1v1h1v3h-1v1h-1v1h-1v1h-3v-1h-1v-1h-1v-1h-1v-3h1v-1h1v-1h1v-1zM74 148h3v1h1v1h1v1h1v3h-1v1h-1v1h-1v1h-3v-1h-1v-1h-1v-1h-1v-3h1v-1h1v-1h1v-1zM77 121h3v1h1v1h1v1h1v3h-1v1h-1v1h-1v1h-3v-1h-1v-1h-1v-1h-1v-3h1v-1h1v-1h1v-1zM80 134h3v1h1v1h1v1h1v3h-1v1h-1v1h-1v1h-3v-1h-1v-1h-1v-1h-1v-3h1v-1h1v-1h1v-1zM84 130h3v1h1v1h1v1h1v3h-1v1h-1v1h-1v1h-3v-1h-1v-1h-1v-1h-1v-3h1v-1h1v-1h1v-1zM86 157h3v1h1v1h1v1h1v3h-1v1h-1v1h-1v1h-3v-1h-1v-1h-1v-1h-1v-3h1v-1h1v-1h1v-1zM91 143h3v1h1v1h1v1h1v3h-1v1h-1v1h-1v1h-3v-1h-1v-1h-1v-1h-1v-3h1v-1h1v-1h1v-1zM95 133h3v1h1v1h1v1h1v3h-1v1h-1v1h-1v1h-3v-1h-1v-1h-1v-1h-1v-3h1v-1h1v-1h1v-1zM98 128h3v1h1v1h1v1h1v3h-1v1h-1v1h-1v1h-3v-1h-1v-1h-1v-1h-1v-3h1v-1h1v-1h1v-1zM100 163h3v1h1v1h1v1h1v3h-1v1h-1v1h-1v1h-3v-1h-1v-1h-1v-1h-1v-3h1v-1h1v-1h1v-1zM103 148h3v1h1v1h1v1h1v3h-1v1h-1v1h-1v1h-3v-1h-1v-1h-1v-1h-1v-3h1v-1h1v-1h1v-1zM105 131h3v1h1v1h1v1h1v3h-1v1h-1v1h-1v1h-3v-1h-1v-1h-1v-1h-1v-3h1v-1h1v-1h1v-1zM109 135h3v1h1v1h1v1h1v3h-1v1h-1v1h-1v1h-3v-1h-1v-1h-1v-1h-1v-3h1v-1h1v-1h1v-1zM110 121h3v1h1v1h1v1h1v3h-1v1h-1v1h-1v1h-3v-1h-1v-1h-1v-1h-1v-3h1v-1h1v-1h1v-1zM114 138h3v1h1v1h1v1h1v3h-1v1h-1v1h-1v1h-3v-1h-1v-1h-1v-1h-1v-3h1v-1h1v-1h1v-1zM115 158h3v1h1v1h1v1h1v3h-1v1h-1v1h-1v1h-3v-1h-1v-1h-1v-1h-1v-3h1v-1h1v-1h1v-1zM119 165h3v1h1v1h1v1h1v3h-1v1h-1v1h-1v1h-3v-1h-1v-1h-1v-1h-1v-3h1v-1h1v-1h1v-1zM123 156h3v1h1v1h1v1h1v3h-1v1h-1v1h-1v1h-3v-1h-1v-1h-1v-1h-1v-3h1v-1h1v-1h1v-1zM126 160h3v1h1v1h1v1h1v3h-1v1h-1v1h-1v1h-3v-1h-1v-1h-1v-1h-1v-3h1v-1h1v-1h1v-1zM130 165h3v1h1v1h1v1h1v3h-1v1h-1v1h-1v1h-3v-1h-1v-1h-1v-1h-1v-3h1v-1h1v-1h1v-1zM135 160h3v1h1v1h1v1h1v3h-1v1h-1v1h-1v1h-3v-1h-1v-1h-1v-1h-1v-3h1v-1h1v-1h1v-1zM139 166h3v1h1v1h1v1h1v3h-1v1h-1v1h-1v1h-3v-1h-1v-1h-1v-1h-1v-3h1v-1h1v-1h1v-1zM144 158h3v1h1v1h1v1h1v3h-1v1h-1v1h-1v1h-3v-1h-1v-1h-1v-1h-1v-3h1v-1h1v-1h1v-1zM147 158h3v1h1v1h1v1h1v3h-1v1h-1v1h-1v1h-3v-1h-1v-1h-1v-1h-1v-3h1v-1h1v-1h1v-1zM149 173h3v1h1v1h1v1h1v3h-1v1h-1v1h-1v1h-3v-1h-1v-1h-1v-1h-1v-3h1v-1h1v-1h1v-1zM152 163h3v1h1v1h1v1h1v3h-1v1h-1v1h-1v1h-3v-1h-1v-1h-1v-1h-1v-3h1v-1h1v-1h1v-1zM155 173h3v1h1v1h1v1h1v3h-1v1h-1v1h-1v1h-3v-1h-1v-1h-1v-1h-1v-3h1v-1h1v-1h1v-1zM160 168h3v1h1v1h1v1h1v3h-1v1h-1v1h-1v1h-3v-1h-1v-1h-1v-1h-1v-3h1v-1h1v-1h1v-1zM163 174h3v1h1v1h1v1h1v3h-1v1h-1v1h-1v1h-3v-1h-1v-1h-1v-1h-1v-3h1v-1h1v-1h1v-1zM165 191h3v1h1v1h1v1h1v3h-1v1h-1v1h-1v1h-3v-1h-1v-1h-1v-1h-1v-3h1v-1h1v-1h1v-1zM167 173h3v1h1v1h1v1h1v3h-1v1h-1v1h-1v1h-3v-1h-1v-1h-1v-1h-1v-3h1v-1h1v-1h1v-1zM171 178h3v1h1v1h1v1h1v3h-1v1h-1v1h-1v1h-3v-1h-1v-1h-1v-1h-1v-3h1v-1h1v-1h1v-1zM173 167h3v1h1v1h1v1h1v3h-1v1h-1v1h-1v1h-3v-1h-1v-1h-1v-1h-1v-3h1v-1h1v-1h1v-1zM176 176h3v1h1v1h1v1h1v3h-1v1h-1v1h-1v1h-3v-1h-1v-1h-1v-1h-1v-3h1v-1h1v-1h1v-1zM178 186h3v1h1v1h1v1h1v3h-1v1h-1v1h-1v1h-3v-1h-1v-1h-1v-1h-1v-3h1v-1h1v-1h1v-1zM181 201h3v1h1v1h1v1h1v3h-1v1h-1v1h-1v1h-3v-1h-1v-1h-1v-1h-1v-3h1v-1h1v-1h1v-1zM184 191h3v1h1v1h1v1h1v3h-1v1h-1v1h-1v1h-3v-1h-1v-1h-1v-1h-1v-3h1v-1h1v-1h1v-1zM187 179h3v1h1v1h1v1h1v3h-1v1h-1v1h-1v1h-3v-1h-1v-1h-1v-1h-1v-3h1v-1h1v-1h1v-1zM189 186h3v1h1v1h1v1h1v3h-1v1h-1v1h-1v1h-3v-1h-1v-1h-1v-1h-1v-3h1v-1h1v-1h1v-1zM192 189h3v1h1v1h1v1h1v3h-1v1h-1v1h-1v1h-3v-1h-1v-1h-1v-1h-1v-3h1v-1h1v-1h1v-1zM196 203h3v1h1v1h1v1h1v3h-1v1h-1v1h-1v1h-3v-1h-1v-1h-1v-1h-1v-3h1v-1h1v-1h1v-1zM198 196h3v1h1v1h1v1h1v3h-1v1h-1v1h-1v1h-3v-1h-1v-1h-1v-1h-1v-3h1v-1h1v-1h1v-1zM201 181h3v1h1v1h1v1h1v3h-1v1h-1v1h-1v1h-3v-1h-1v-1h-1v-1h-1v-3h1v-1h1v-1h1v-1zM203 203h3v1h1v1h1v1h1v3h-1v1h-1v1h-1v1h-3v-1h-1v-1h-1v-1h-1v-3h1v-1h1v-1h1v-1zM206 200h3v1h1v1h1v1h1v3h-1v1h-1v1h-1v1h-3v-1h-1v-1h-1v-1h-1v-3h1v-1h1v-1h1v-1zM208 213h3v1h1v1h1v1h1v3h-1v1h-1v1h-1v1h-3v-1h-1v-1h-1v-1h-1v-3h1v-1h1v-1h1v-1zM212 215h3v1h1v1h1v1h1v3h-1v1h-1v1h-1v1h-3v-1h-1v-1h-1v-1h-1v-3h1v-1h1v-1h1v-1zM218 206h3v1h1v1h1v1h1v3h-1v1h-1v1h-1v1h-3v-1h-1v-1h-1v-1h-1v-3h1v-1h1v-1h1v-1zM223 203h3v1h1v1h1v1h1v3h-1v1h-1v1h-1v1h-3v-1h-1v-1h-1v-1h-1v-3h1v-1h1v-1h1v-1zM228 201h3v1h1v1h1v1h1v3h-1v1h-1v1h-1v1h-3v-1h-1v-1h-1v-1h-1v-3h1v-1h1v-1h1v-1zM233 201h3v1h1v1h1v1h1v3h-1v1h-1v1h-1v1h-3v-1h-1v-1h-1v-1h-1v-3h1v-1h1v-1h1v-1zM236 195h3v1h1v1h1v1h1v3h-1v1h-1v1h-1v1h-3v-1h-1v-1h-1v-1h-1v-3h1v-1h1v-1h1v-1zM239 189h3v1h1v1h1v1h1v3h-1v1h-1v1h-1v1h-3v-1h-1v-1h-1v-1h-1v-3h1v-1h1v-1h1v-1zM241 184h3v1h1v1h1v1h1v3h-1v1h-1v1h-1v1h-3v-1h-1v-1h-1v-1h-1v-3h1v-1h1v-1h1v-1zM243 171h3v1h1v1h1v1h1v3h-1v1h-1v1h-1v1h-3v-1h-1v-1h-1v-1h-1v-3h1v-1h1v-1h1v-1zM245 128h3v1h1v1h1v1h1v3h-1v1h-1v1h-1v1h-3v-1h-1v-1h-1v-1h-1v-3h1v-1h1v-1h1v-1zM248 131h3v1h1v1h1v1h1v3h-1v1h-1v1h-1v1h-3v-1h-1v-1h-1v-1h-1v-3h1v-1h1v-1h1v-1zM250 108h3v1h1v1h1v1h1v3h-1v1h-1v1h-1v1h-3v-1h-1v-1h-1v-1h-1v-3h1v-1h1v-1h1v-1zM253 128h3v1h1v1h1v1h1v3h-1v1h-1v1h-1v1h-3v-1h-1v-1h-1v-1h-1v-3h1v-1h1v-1h1v-1zM256 146h3v1h1v1h1v1h1v3h-1v1h-1v1h-1v1h-3v-1h-1v-1h-1v-1h-1v-3h1v-1h1v-1h1v-1zM259 130h3v1h1v1h1v1h1v3h-1v1h-1v1h-1v1h-3v-1h-1v-1h-1v-1h-1v-3h1v-1h1v-1h1v-1zM263 158h3v1h1v1h1v1h1v3h-1v1h-1v1h-1v1h-3v-1h-1v-1h-1v-1h-1v-3h1v-1h1v-1h1v-1zM264 145h3v1h1v1h1v1h1v3h-1v1h-1v1h-1v1h-3v-1h-1v-1h-1v-1h-1v-3h1v-1h1v-1h1v-1zM269 133h3v1h1v1h1v1h1v3h-1v1h-1v1h-1v1h-3v-1h-1v-1h-1v-1h-1v-3h1v-1h1v-1h1v-1zM271 144h3v1h1v1h1v1h1v3h-1v1h-1v1h-1v1h-3v-1h-1v-1h-1v-1h-1v-3h1v-1h1v-1h1v-1zM275 132h3v1h1v1h1v1h1v3h-1v1h-1v1h-1v1h-3v-1h-1v-1h-1v-1h-1v-3h1v-1h1v-1h1v-1zM278 143h3v1h1v1h1v1h1v3h-1v1h-1v1h-1v1h-3v-1h-1v-1h-1v-1h-1v-3h1v-1h1v-1h1v-1zM281 147h3v1h1v1h1v1h1v3h-1v1h-1v1h-1v1h-3v-1h-1v-1h-1v-1h-1v-3h1v-1h1v-1h1v-1zM284 156h3v1h1v1h1v1h1v3h-1v1h-1v1h-1v1h-3v-1h-1v-1h-1v-1h-1v-3h1v-1h1v-1h1v-1zM288 163h3v1h1v1h1v1h1v3h-1v1h-1v1h-1v1h-3v-1h-1v-1h-1v-1h-1v-3h1v-1h1v-1h1v-1zM290 170h3v1h1v1h1v1h1v3h-1v1h-1v1h-1v1h-3v-1h-1v-1h-1v-1h-1v-3h1v-1h1v-1h1v-1zM294 166h3v1h1v1h1v1h1v3h-1v1h-1v1h-1v1h-3v-1h-1v-1h-1v-1h-1v-3h1v-1h1v-1h1v-1zM300 161h3v1h1v1h1v1h1v3h-1v1h-1v1h-1v1h-3v-1h-1v-1h-1v-1h-1v-3h1v-1h1v-1h1v-1zM304 165h3v1h1v1h1v1h1v3h-1v1h-1v1h-1v1h-3v-1h-1v-1h-1v-1h-1v-3h1v-1h1v-1h1v-1zM310 170h3v1h1v1h1v1h1v3h-1v1h-1v1h-1v1h-3v-1h-1v-1h-1v-1h-1v-3h1v-1h1v-1h1v-1zM313 159h3v1h1v1h1v1h1v3h-1v1h-1v1h-1v1h-3v-1h-1v-1h-1v-1h-1v-3h1v-1h1v-1h1v-1zM316 169h3v1h1v1h1v1h1v3h-1v1h-1v1h-1v1h-3v-1h-1v-1h-1v-1h-1v-3h1v-1h1v-1h1v-1zM319 184h3v1h1v1h1v1h1v3h-1v1h-1v1h-1v1h-3v-1h-1v-1h-1v-1h-1v-3h1v-1h1v-1h1v-1zM321 177h3v1h1v1h1v1h1v3h-1v1h-1v1h-1v1h-3v-1h-1v-1h-1v-1h-1v-3h1v-1h1v-1h1v-1zM324 179h3v1h1v1h1v1h1v3h-1v1h-1v1h-1v1h-3v-1h-1v-1h-1v-1h-1v-3h1v-1h1v-1h1v-1zM328 172h3v1h1v1h1v1h1v3h-1v1h-1v1h-1v1h-3v-1h-1v-1h-1v-1h-1v-3h1v-1h1v-1h1v-1zM333 178h3v1h1v1h1v1h1v3h-1v1h-1v1h-1v1h-3v-1h-1v-1h-1v-1h-1v-3h1v-1h1v-1h1v-1zM336 170h3v1h1v1h1v1h1v3h-1v1h-1v1h-1v1h-3v-1h-1v-1h-1v-1h-1v-3h1v-1h1v-1h1v-1zM339 163h3v1h1v1h1v1h1v3h-1v1h-1v1h-1v1h-3v-1h-1v-1h-1v-1h-1v-3h1v-1h1v-1h1v-1zM341 155h3v1h1v1h1v1h1v3h-1v1h-1v1h-1v1h-3v-1h-1v-1h-1v-1h-1v-3h1v-1h1v-1h1v-1zM344 175h3v1h1v1h1v1h1v3h-1v1h-1v1h-1v1h-3v-1h-1v-1h-1v-1h-1v-3h1v-1h1v-1h1v-1zM346 187h3v1h1v1h1v1h1v3h-1v1h-1v1h-1v1h-3v-1h-1v-1h-1v-1h-1v-3h1v-1h1v-1h1v-1zM349 169h3v1h1v1h1v1h1v3h-1v1h-1v1h-1v1h-3v-1h-1v-1h-1v-1h-1v-3h1v-1h1v-1h1v-1zM351 165h3v1h1v1h1v1h1v3h-1v1h-1v1h-1v1h-3v-1h-1v-1h-1v-1h-1v-3h1v-1h1v-1h1v-1zM356 168h3v1h1v1h1v1h1v3h-1v1h-1v1h-1v1h-3v-1h-1v-1h-1v-1h-1v-3h1v-1h1v-1h1v-1zM357 188h3v1h1v1h1v1h1v3h-1v1h-1v1h-1v1h-3v-1h-1v-1h-1v-1h-1v-3h1v-1h1v-1h1v-1zM359 191h3v1h1v1h1v1h1v3h-1v1h-1v1h-1v1h-3v-1h-1v-1h-1v-1h-1v-3h1v-1h1v-1h1v-1zM363 171h3v1h1v1h1v1h1v3h-1v1h-1v1h-1v1h-3v-1h-1v-1h-1v-1h-1v-3h1v-1h1v-1h1v-1zM364 178h3v1h1v1h1v1h1v3h-1v1h-1v1h-1v1h-3v-1h-1v-1h-1v-1h-1v-3h1v-1h1v-1h1v-1zM367 164h3v1h1v1h1v1h1v3h-1v1h-1v1h-1v1h-3v-1h-1v-1h-1v-1h-1v-3h1v-1h1v-1h1v-1zM370 165h3v1h1v1h1v1h1v3h-1v1h-1v1h-1v1h-3v-1h-1v-1h-1v-1h-1v-3h1v-1h1v-1h1v-1zM373 163h3v1h1v1h1v1h1v3h-1v1h-1v1h-1v1h-3v-1h-1v-1h-1v-1h-1v-3h1v-1h1v-1h1v-1zM376 173h3v1h1v1h1v1h1v3h-1v1h-1v1h-1v1h-3v-1h-1v-1h-1v-1h-1v-3h1v-1h1v-1h1v-1zM379 185h3v1h1v1h1v1h1v3h-1v1h-1v1h-1v1h-3v-1h-1v-1h-1v-1h-1v-3h1v-1h1v-1h1v-1zM383 194h3v1h1v1h1v1h1v3h-1v1h-1v1h-1v1h-3v-1h-1v-1h-1v-1h-1v-3h1v-1h1v-1h1v-1zM385 174h3v1h1v1h1v1h1v3h-1v1h-1v1h-1v1h-3v-1h-1v-1h-1v-1h-1v-3h1v-1h1v-1h1v-1zM389 174h3v1h1v1h1v1h1v3h-1v1h-1v1h-1v1h-3v-1h-1v-1h-1v-1h-1v-3h1v-1h1v-1h1v-1zM390 188h3v1h1v1h1v1h1v3h-1v1h-1v1h-1v1h-3v-1h-1v-1h-1v-1h-1v-3h1v-1h1v-1h1v-1zM394 188h3v1h1v1h1v1h1v3h-1v1h-1v1h-1v1h-3v-1h-1v-1h-1v-1h-1v-3h1v-1h1v-1h1v-1zM396 196h3v1h1v1h1v1h1v3h-1v1h-1v1h-1v1h-3v-1h-1v-1h-1v-1h-1v-3h1v-1h1v-1h1v-1zM398 203h3v1h1v1h1v1h1v3h-1v1h-1v1h-1v1h-3v-1h-1v-1h-1v-1h-1v-3h1v-1h1v-1h1v-1zM401 192h3v1h1v1h1v1h1v3h-1v1h-1v1h-1v1h-3v-1h-1v-1h-1v-1h-1v-3h1v-1h1v-1h1v-1zM403 181h3v1h1v1h1v1h1v3h-1v1h-1v1h-1v1h-3v-1h-1v-1h-1v-1h-1v-3h1v-1h1v-1h1v-1zM404 191h3v1h1v1h1v1h1v3h-1v1h-1v1h-1v1h-3v-1h-1v-1h-1v-1h-1v-3h1v-1h1v-1h1v-1zM407 195h3v1h1v1h1v1h1v3h-1v1h-1v1h-1v1h-3v-1h-1v-1h-1v-1h-1v-3h1v-1h1v-1h1v-1zM409 193h3v1h1v1h1v1h1v3h-1v1h-1v1h-1v1h-3v-1h-1v-1h-1v-1h-1v-3h1v-1h1v-1h1v-1zM411 210h3v1h1v1h1v1h1v3h-1v1h-1v1h-1v1h-3v-1h-1v-1h-1v-1h-1v-3h1v-1h1v-1h1v-1zM413 208h3v1h1v1h1v1h1v3h-1v1h-1v1h-1v1h-3v-1h-1v-1h-1v-1h-1v-3h1v-1h1v-1h1v-1zM416 206h3v1h1v1h1v1h1v3h-1v1h-1v1h-1v1h-3v-1h-1v-1h-1v-1h-1v-3h1v-1h1v-1h1v-1zM419 210h3v1h1v1h1v1h1v3h-1v1h-1v1h-1v1h-3v-1h-1v-1h-1v-1h-1v-3h1v-1h1v-1h1v-1zM421 196h3v1h1v1h1v1h1v3h-1v1h-1v1h-1v1h-3v-1h-1v-1h-1v-1h-1v-3h1v-1h1v-1h1v-1zM423 206h3v1h1v1h1v1h1v3h-1v1h-1v1h-1v1h-3v-1h-1v-1h-1v-1h-1v-3h1v-1h1v-1h1v-1zM425 208h3v1h1v1h1v1h1v3h-1v1h-1v1h-1v1h-3v-1h-1v-1h-1v-1h-1v-3h1v-1h1v-1h1v-1zM427 207h3v1h1v1h1v1h1v3h-1v1h-1v1h-1v1h-3v-1h-1v-1h-1v-1h-1v-3h1v-1h1v-1h1v-1zM429 199h3v1h1v1h1v1h1v3h-1v1h-1v1h-1v1h-3v-1h-1v-1h-1v-1h-1v-3h1v-1h1v-1h1v-1zM430 208h3v1h1v1h1v1h1v3h-1v1h-1v1h-1v1h-3v-1h-1v-1h-1v-1h-1v-3h1v-1h1v-1h1v-1zM433 211h3v1h1v1h1v1h1v3h-1v1h-1v1h-1v1h-3v-1h-1v-1h-1v-1h-1v-3h1v-1h1v-1h1v-1zM436 206h3v1h1v1h1v1h1v3h-1v1h-1v1h-1v1h-3v-1h-1v-1h-1v-1h-1v-3h1v-1h1v-1h1v-1zM438 200h3v1h1v1h1v1h1v3h-1v1h-1v1h-1v1h-3v-1h-1v-1h-1v-1h-1v-3h1v-1h1v-1h1v-1zM439 209h3v1h1v1h1v1h1v3h-1v1h-1v1h-1v1h-3v-1h-1v-1h-1v-1h-1v-3h1v-1h1v-1h1v-1zM443 211h3v1h1v1h1v1h1v3h-1v1h-1v1h-1v1h-3v-1h-1v-1h-1v-1h-1v-3h1v-1h1v-1h1v-1zM445 216h3v1h1v1h1v1h1v3h-1v1h-1v1h-1v1h-3v-1h-1v-1h-1v-1h-1v-3h1v-1h1v-1h1v-1zM448 222h3v1h1v1h1v1h1v3h-1v1h-1v1h-1v1h-3v-1h-1v-1h-1v-1h-1v-3h1v-1h1v-1h1v-1zM450 213h3v1h1v1h1v1h1v3h-1v1h-1v1h-1v1h-3v-1h-1v-1h-1v-1h-1v-3h1v-1h1v-1h1v-1zM453 206h3v1h1v1h1v1h1v3h-1v1h-1v1h-1v1h-3v-1h-1v-1h-1v-1h-1v-3h1v-1h1v-1h1v-1zM454 218h3v1h1v1h1v1h1v3h-1v1h-1v1h-1v1h-3v-1h-1v-1h-1v-1h-1v-3h1v-1h1v-1h1v-1zM457 222h3v1h1v1h1v1h1v3h-1v1h-1v1h-1v1h-3v-1h-1v-1h-1v-1h-1v-3h1v-1h1v-1h1v-1zM459 216h3v1h1v1h1v1h1v3h-1v1h-1v1h-1v1h-3v-1h-1v-1h-1v-1h-1v-3h1v-1h1v-1h1v-1zM461 212h3v1h1v1h1v1h1v3h-1v1h-1v1h-1v1h-3v-1h-1v-1h-1v-1h-1v-3h1v-1h1v-1h1v-1zM464 205h3v1h1v1h1v1h1v3h-1v1h-1v1h-1v1h-3v-1h-1v-1h-1v-1h-1v-3h1v-1h1v-1h1v-1zM466 200h3v1h1v1h1v1h1v3h-1v1h-1v1h-1v1h-3v-1h-1v-1h-1v-1h-1v-3h1v-1h1v-1h1v-1zM468 195h3v1h1v1h1v1h1v3h-1v1h-1v1h-1v1h-3v-1h-1v-1h-1v-1h-1v-3h1v-1h1v-1h1v-1zM471 206h3v1h1v1h1v1h1v3h-1v1h-1v1h-1v1h-3v-1h-1v-1h-1v-1h-1v-3h1v-1h1v-1h1v-1zM473 209h3v1h1v1h1v1h1v3h-1v1h-1v1h-1v1h-3v-1h-1v-1h-1v-1h-1v-3h1v-1h1v-1h1v-1zM476 212h3v1h1v1h1v1h1v3h-1v1h-1v1h-1v1h-3v-1h-1v-1h-1v-1h-1v-3h1v-1h1v-1h1v-1zM478 204h3v1h1v1h1v1h1v3h-1v1h-1v1h-1v1h-3v-1h-1v-1h-1v-1h-1v-3h1v-1h1v-1h1v-1zM479 196h3v1h1v1h1v1h1v3h-1v1h-1v1h-1v1h-3v-1h-1v-1h-1v-1h-1v-3h1v-1h1v-1h1v-1zM483 206h3v1h1v1h1v1h1v3h-1v1h-1v1h-1v1h-3v-1h-1v-1h-1v-1h-1v-3h1v-1h1v-1h1v-1zM487 212h3v1h1v1h1v1h1v3h-1v1h-1v1h-1v1h-3v-1h-1v-1h-1v-1h-1v-3h1v-1h1v-1h1v-1zM491 206h3v1h1v1h1v1h1v3h-1v1h-1v1h-1v1h-3v-1h-1v-1h-1v-1h-1v-3h1v-1h1v-1h1v-1zM496 228h3v1h1v1h1v1h1v3h-1v1h-1v1h-1v1h-3v-1h-1v-1h-1v-1h-1v-3h1v-1h1v-1h1v-1zM501 224h3v1h1v1h1v1h1v3h-1v1h-1v1h-1v1h-3v-1h-1v-1h-1v-1h-1v-3h1v-1h1v-1h1v-1zM505 233h3v1h1v1h1v1h1v3h-1v1h-1v1h-1v1h-3v-1h-1v-1h-1v-1h-1v-3h1v-1h1v-1h1v-1zM510 241h3v1h1v1h1v1h1v3h-1v1h-1v1h-1v1h-3v-1h-1v-1h-1v-1h-1v-3h1v-1h1v-1h1v-1zM515 237h3v1h1v1h1v1h1v3h-1v1h-1v1h-1v1h-3v-1h-1v-1h-1v-1h-1v-3h1v-1h1v-1h1v-1zM519 237h3v1h1v1h1v1h1v3h-1v1h-1v1h-1v1h-3v-1h-1v-1h-1v-1h-1v-3h1v-1h1v-1h1v-1zM523 238h3v1h1v1h1v1h1v3h-1v1h-1v1h-1v1h-3v-1h-1v-1h-1v-1h-1v-3h1v-1h1v-1h1v-1zM525 275h3v1h1v1h1v1h1v3h-1v1h-1v1h-1v1h-3v-1h-1v-1h-1v-1h-1v-3h1v-1h1v-1h1v-1zM529 267h3v1h1v1h1v1h1v3h-1v1h-1v1h-1v1h-3v-1h-1v-1h-1v-1h-1v-3h1v-1h1v-1h1v-1zM533 275h3v1h1v1h1v1h1v3h-1v1h-1v1h-1v1h-3v-1h-1v-1h-1v-1h-1v-3h1v-1h1v-1h1v-1zM538 277h3v1h1v1h1v1h1v3h-1v1h-1v1h-1v1h-3v-1h-1v-1h-1v-1h-1v-3h1v-1h1v-1h1v-1zM544 277h3v1h1v1h1v1h1v3h-1v1h-1v1h-1v1h-3v-1h-1v-1h-1v-1h-1v-3h1v-1h1v-1h1v-1zM550 278h3v1h1v1h1v1h1v3h-1v1h-1v1h-1v1h-3v-1h-1v-1h-1v-1h-1v-3h1v-1h1v-1h1v-1zM555 278h3v1h1v1h1v1h1v3h-1v1h-1v1h-1v1h-3v-1h-1v-1h-1v-1h-1v-3h1v-1h1v-1h1v-1zM556 267h3v1h1v1h1v1h1v3h-1v1h-1v1h-1v1h-3v-1h-1v-1h-1v-1h-1v-3h1v-1h1v-1h1v-1zM561 263h3v1h1v1h1v1h1v3h-1v1h-1v1h-1v1h-3v-1h-1v-1h-1v-1h-1v-3h1v-1h1v-1h1v-1zM566 258h3v1h1v1h1v1h1v3h-1v1h-1v1h-1v1h-3v-1h-1v-1h-1v-1h-1v-3h1v-1h1v-1h1v-1zM569 272h3v1h1v1h1v1h1v3h-1v1h-1v1h-1v1h-3v-1h-1v-1h-1v-1h-1v-3h1v-1h1v-1h1v-1zM574 266h3v1h1v1h1v1h1v3h-1v1h-1v1h-1v1h-3v-1h-1v-1h-1v-1h-1v-3h1v-1h1v-1h1v-1zM579 272h3v1h1v1h1v1h1v3h-1v1h-1v1h-1v1h-3v-1h-1v-1h-1v-1h-1v-3h1v-1h1v-1h1v-1zM583 267h3v1h1v1h1v1h1v3h-1v1h-1v1h-1v1h-3v-1h-1v-1h-1v-1h-1v-3h1v-1h1v-1h1v-1zM586 261h3v1h1v1h1v1h1v3h-1v1h-1v1h-1v1h-3v-1h-1v-1h-1v-1h-1v-3h1v-1h1v-1h1v-1zM590 255h3v1h1v1h1v1h1v3h-1v1h-1v1h-1v1h-3v-1h-1v-1h-1v-1h-1v-3h1v-1h1v-1h1v-1zM594 262h3v1h1v1h1v1h1v3h-1v1h-1v1h-1v1h-3v-1h-1v-1h-1v-1h-1v-3h1v-1h1v-1h1v-1zM595 188h3v1h1v1h1v1h1v3h-1v1h-1v1h-1v1h-3v-1h-1v-1h-1v-1h-1v-3h1v-1h1v-1h1v-1zM600 185h3v1h1v1h1v1h1v3h-1v1h-1v1h-1v1h-3v-1h-1v-1h-1v-1h-1v-3h1v-1h1v-1h1v-1zM603 198h3v1h1v1h1v1h1v3h-1v1h-1v1h-1v1h-3v-1h-1v-1h-1v-1h-1v-3h1v-1h1v-1h1v-1zM606 177h3v1h1v1h1v1h1v3h-1v1h-1v1h-1v1h-3v-1h-1v-1h-1v-1h-1v-3h1v-1h1v-1h1v-1zM610 183h3v1h1v1h1v1h1v3h-1v1h-1v1h-1v1h-3v-1h-1v-1h-1v-1h-1v-3h1v-1h1v-1h1v-1zM614 207h3v1h1v1h1v1h1v3h-1v1h-1v1h-1v1h-3v-1h-1v-1h-1v-1h-1v-3h1v-1h1v-1h1v-1zM619 217h3v1h1v1h1v1h1v3h-1v1h-1v1h-1v1h-3v-1h-1v-1h-1v-1h-1v-3h1v-1h1v-1h1v-1zM623 210h3v1h1v1h1v1h1v3h-1v1h-1v1h-1v1h-3v-1h-1v-1h-1v-1h-1v-3h1v-1h1v-1h1v-1zM626 230h3v1h1v1h1v1h1v3h-1v1h-1v1h-1v1h-3v-1h-1v-1h-1v-1h-1v-3h1v-1h1v-1h1v-1zM630 231h3v1h1v1h1v1h1v3h-1v1h-1v1h-1v1h-3v-1h-1v-1h-1v-1h-1v-3h1v-1h1v-1h1v-1zM633 237h3v1h1v1h1v1h1v3h-1v1h-1v1h-1v1h-3v-1h-1v-1h-1v-1h-1v-3h1v-1h1v-1h1v-1zM636 236h3v1h1v1h1v1h1v3h-1v1h-1v1h-1v1h-3v-1h-1v-1h-1v-1h-1v-3h1v-1h1v-1h1v-1zM639 246h3v1h1v1h1v1h1v3h-1v1h-1v1h-1v1h-3v-1h-1v-1h-1v-1h-1v-3h1v-1h1v-1h1v-1zM642 256h3v1h1v1h1v1h1v3h-1v1h-1v1h-1v1h-3v-1h-1v-1h-1v-1h-1v-3h1v-1h1v-1h1v-1zM648 255h3v1h1v1h1v1h1v3h-1v1h-1v1h-1v1h-3v-1h-1v-1h-1v-1h-1v-3h1v-1h1v-1h1v-1zM651 241h3v1h1v1h1v1h1v3h-1v1h-1v1h-1v1h-3v-1h-1v-1h-1v-1h-1v-3h1v-1h1v-1h1v-1zM655 246h3v1h1v1h1v1h1v3h-1v1h-1v1h-1v1h-3v-1h-1v-1h-1v-1h-1v-3h1v-1h1v-1h1v-1zM659 252h3v1h1v1h1v1h1v3h-1v1h-1v1h-1v1h-3v-1h-1v-1h-1v-1h-1v-3h1v-1h1v-1h1v-1zM664 258h3v1h1v1h1v1h1v3h-1v1h-1v1h-1v1h-3v-1h-1v-1h-1v-1h-1v-3h1v-1h1v-1h1v-1zM669 256h3v1h1v1h1v1h1v3h-1v1h-1v1h-1v1h-3v-1h-1v-1h-1v-1h-1v-3h1v-1h1v-1h1v-1zM674 261h3v1h1v1h1v1h1v3h-1v1h-1v1h-1v1h-3v-1h-1v-1h-1v-1h-1v-3h1v-1h1v-1h1v-1zM676 255h3v1h1v1h1v1h1v3h-1v1h-1v1h-1v1h-3v-1h-1v-1h-1v-1h-1v-3h1v-1h1v-1h1v-1zM679 248h3v1h1v1h1v1h1v3h-1v1h-1v1h-1v1h-3v-1h-1v-1h-1v-1h-1v-3h1v-1h1v-1h1v-1zM684 245h3v1h1v1h1v1h1v3h-1v1h-1v1h-1v1h-3v-1h-1v-1h-1v-1h-1v-3h1v-1h1v-1h1v-1zM689 243h3v1h1v1h1v1h1v3h-1v1h-1v1h-1v1h-3v-1h-1v-1h-1v-1h-1v-3h1v-1h1v-1h1v-1zM694 237h3v1h1v1h1v1h1v3h-1v1h-1v1h-1v1h-3v-1h-1v-1h-1v-1h-1v-3h1v-1h1v-1h1v-1zM699 238h3v1h1v1h1v1h1v3h-1v1h-1v1h-1v1h-3v-1h-1v-1h-1v-1h-1v-3h1v-1h1v-1h1v-1zM703 234h3v1h1v1h1v1h1v3h-1v1h-1v1h-1v1h-3v-1h-1v-1h-1v-1h-1v-3h1v-1h1v-1h1v-1zM706 229h3v1h1v1h1v1h1v3h-1v1h-1v1h-1v1h-3v-1h-1v-1h-1v-1h-1v-3h1v-1h1v-1h1v-1zM711 237h3v1h1v1h1v1h1v3h-1v1h-1v1h-1v1h-3v-1h-1v-1h-1v-1h-1v-3h1v-1h1v-1h1v-1zM715 231h3v1h1v1h1v1h1v3h-1v1h-1v1h-1v1h-3v-1h-1v-1h-1v-1h-1v-3h1v-1h1v-1h1v-1zM718 216h3v1h1v1h1v1h1v3h-1v1h-1v1h-1v1h-3v-1h-1v-1h-1v-1h-1v-3h1v-1h1v-1h1v-1zM721 220h3v1h1v1h1v1h1v3h-1v1h-1v1h-1v1h-3v-1h-1v-1h-1v-1h-1v-3h1v-1h1v-1h1v-1zM724 228h3v1h1v1h1v1h1v3h-1v1h-1v1h-1v1h-3v-1h-1v-1h-1v-1h-1v-3h1v-1h1v-1h1v-1zM730 226h3v1h1v1h1v1h1v3h-1v1h-1v1h-1v1h-3v-1h-1v-1h-1v-1h-1v-3h1v-1h1v-1h1v-1zM733 232h3v1h1v1h1v1h1v3h-1v1h-1v1h-1v1h-3v-1h-1v-1h-1v-1h-1v-3h1v-1h1v-1h1v-1zM738 222h3v1h1v1h1v1h1v3h-1v1h-1v1h-1v1h-3v-1h-1v-1h-1v-1h-1v-3h1v-1h1v-1h1v-1zM741 228h3v1h1v1h1v1h1v3h-1v1h-1v1h-1v1h-3v-1h-1v-1h-1v-1h-1v-3h1v-1h1v-1h1v-1zM745 227h3v1h1v1h1v1h1v3h-1v1h-1v1h-1v1h-3v-1h-1v-1h-1v-1h-1v-3h1v-1h1v-1h1v-1zM748 216h3v1h1v1h1v1h1v3h-1v1h-1v1h-1v1h-3v-1h-1v-1h-1v-1h-1v-3h1v-1h1v-1h1v-1zM751 195h3v1h1v1h1v1h1v3h-1v1h-1v1h-1v1h-3v-1h-1v-1h-1v-1h-1v-3h1v-1h1v-1h1v-1zM754 203h3v1h1v1h1v1h1v3h-1v1h-1v1h-1v1h-3v-1h-1v-1h-1v-1h-1v-3h1v-1h1v-1h1v-1zM757 216h3v1h1v1h1v1h1v3h-1v1h-1v1h-1v1h-3v-1h-1v-1h-1v-1h-1v-3h1v-1h1v-1h1v-1zM760 230h3v1h1v1h1v1h1v3h-1v1h-1v1h-1v1h-3v-1h-1v-1h-1v-1h-1v-3h1v-1h1v-1h1v-1z"/>
</svg>
</body></html>
